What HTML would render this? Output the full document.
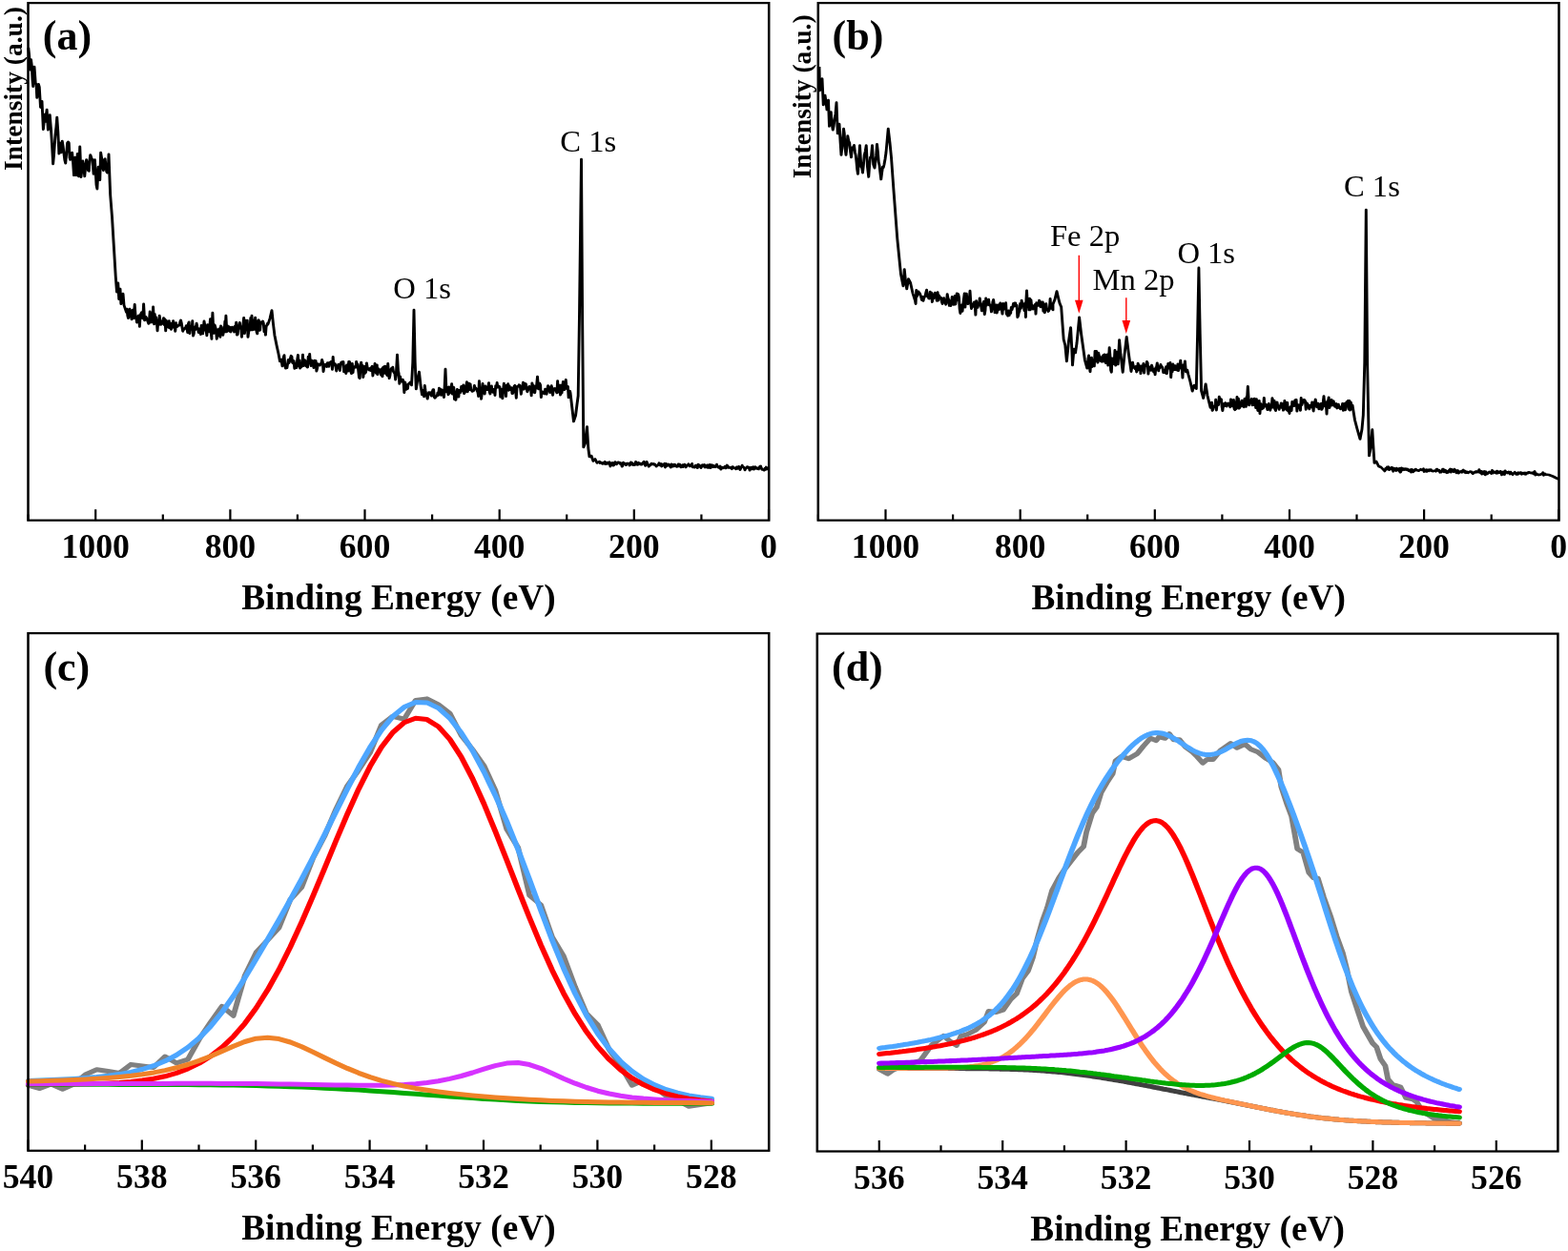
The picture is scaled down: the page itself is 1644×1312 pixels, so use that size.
<!DOCTYPE html>
<html lang="en"><head><meta charset="utf-8"><title>XPS spectra</title>
<style>html,body{margin:0;padding:0;background:#fff}body{width:1644px;height:1312px;overflow:hidden}svg{display:block;font-family:'Liberation Serif', 'DejaVu Serif', serif}</style>
</head><body>
<svg width="1644" height="1312" viewBox="0 0 1644 1312">
<rect width="1644" height="1312" fill="#fff"/>
<g id="panel-a">
<polyline points="26.56,50 27.34,58 28.12,73.1 29.02,62.5 29.69,68.4 30.36,83.3 31.03,90.6 32.14,70 33.26,87.5 33.93,88.1 34.6,102.5 35.34,98.3 36.09,88.2 36.83,91.2 37.95,112.5 38.62,112.7 39.29,106.2 40.51,135.6 41.18,128.4 41.85,120 42.63,127.5 43.86,115 44.98,136.2 45.81,132.5 46.65,120.6 47.77,136.2 48.72,152.5 49.67,171.9 50.4,163.3 51.14,151.5 51.87,140.4 52.61,133.3 53.35,123.1 54.3,138.4 55.25,161.2 56.36,150 57.25,160 58.26,148.1 58.98,153 59.71,160 60.55,167.7 61.38,171.2 62.22,160.8 63.06,150 63.78,148.8 64.51,150 65.18,165.3 65.85,167.5 66.69,163.9 67.52,160 68.36,170.1 69.2,183.8 70.31,165 71.43,183.8 72.54,161.2 73.66,185 74.78,153.8 75.89,185.6 76.73,177.7 77.57,168.8 78.4,175.3 79.24,185 80.08,175.1 80.92,167.5 81.75,172.1 82.59,178.8 83.26,179.4 83.93,168 84.6,162.5 85.55,165.5 86.5,167.5 87.61,182.5 88.73,167.5 89.47,179.7 90.22,194 90.96,198.1 92.08,175 92.8,181.2 93.53,188.8 94.31,160 95.15,165.6 95.98,175 96.82,178.7 97.66,167.5 98.35,166.6 99.05,173.3 99.75,179.8 100.45,181.2 101.12,178.4 101.79,161.9 103.24,204 104.91,227.5 106.58,258.8 108.26,290 109.37,306.2 110.49,296.9 111.38,313.8 112.5,303.1 113.28,318.8 115.18,308.1 116.07,320 118.3,327.5 118.82,324 119.46,330.9 120.1,333.7 120.75,327.4 121.39,324.1 122.03,329.7 122.67,332.2 123.32,335 123.96,325.2 124.6,325 125.25,333.8 125.36,331 126.07,319.4 126.96,333 127.48,333.4 128.12,338.2 128.76,336 129.41,331.4 130.05,330.8 130.69,342.4 131.34,331.1 131.98,329 132.62,327.6 133.26,333.3 133.75,334 134.46,318.8 135.36,336 135.87,334.2 136.51,332.2 137.16,333.6 137.8,335.3 138.44,337.4 139.09,339.4 139.73,335.6 140.37,326.7 141.01,338.1 141.66,328.8 142.3,334.6 142.68,338 143.39,321.9 144.29,340 144.8,329.4 145.44,336.2 146.09,332.8 146.73,337.5 147.37,347 148.01,336.6 148.66,340.7 149.3,331.1 149.94,336 150.59,340.4 151.23,337.1 151.87,339.4 152.51,338.3 153.16,333.5 153.8,340.7 154.44,334.7 155.09,346.9 155.73,336.3 156.37,341.9 157.01,338.9 157.66,343.4 158.3,336.5 158.94,343.9 159.59,339 160.23,345.4 160.87,342.6 161.51,340.6 162.16,336.5 162.8,343.5 163.44,342.2 164.09,347.5 164.73,338.5 165.37,342.7 166.01,342.5 166.66,341.6 167.3,341.3 167.94,341.2 168.59,337.7 169.23,335.9 169.87,338.7 170.51,343.2 171.16,347.4 171.8,345 172.44,345.4 173.09,344.2 173.73,343.9 174.37,341.6 175.01,344.3 175.66,348.8 176.3,339.4 176.94,337.8 177.59,349.8 178.23,342.1 178.87,345.5 179.51,345.3 180.16,336.5 180.8,352.2 181.44,350.1 182.09,343.1 182.73,345.9 183.37,343.4 184.01,339.1 184.66,342.8 185.3,345.2 185.94,348.8 186.59,347.2 187.23,344.5 187.87,350.6 188.51,341.3 189.16,348.5 189.8,350 190.44,343.7 191.09,336.9 191.73,340.9 192.37,346.1 193.01,347.4 193.66,352 194.3,340.5 194.94,345 195.59,347.9 196.23,344.3 196.87,334.6 197.51,348.6 198.16,355.4 198.21,346 199.02,328 199.82,347 200.34,349.5 200.98,340.9 201.62,343.1 202.26,346 202.91,355.4 203.55,347.8 204.19,345.5 204.84,352 205.48,344.6 206.12,353.4 206.76,341.9 207.41,342.9 208.05,348.2 208.69,351.4 209.34,347.9 209.98,346.4 210.62,336.8 210.71,348 211.52,331 212.32,348 212.84,341.7 213.48,342.1 214.12,342.4 214.76,347.4 215.41,343.2 216.05,348.1 216.69,344.9 217.34,343 217.98,345 218.62,346.3 219.26,348.2 219.91,342.1 220.55,343.2 221.19,338 221.84,351.3 222.48,350.6 223.12,343.2 223.76,341.8 224.41,338.3 225.05,344.6 225.69,344.7 226.34,353.5 226.98,344.7 227.62,340.1 228.26,333.2 228.91,349.8 229.55,344.2 230.19,336.1 230.84,344.1 231.48,336 232.12,353.5 232.76,348.1 233.41,345.6 234.05,342.2 234.69,333.3 235,346 235.71,331 236.52,346 237.03,342.2 237.68,335.8 238.32,345.4 238.96,333.1 239.6,338.6 240.25,348.1 240.89,350 241.53,337.2 242.18,335.6 242.82,346.4 243.46,346.2 244.1,337.9 244.75,339.2 245.39,339.2 246.03,336.9 246.68,339.1 247.32,347.8 247.96,345.2 248.6,351.3 249.25,341.7 249.89,341.4 250.53,339.1 250.89,340 252.68,334 254.46,325.6 255.8,340 257.14,352 258.93,362 260.71,371 262.05,379 263.39,377 264.29,384 264.8,379.5 265.44,374.6 266.09,372.6 266.73,383.1 267.37,386.2 268.01,383.7 268.66,385.8 269.3,381.3 269.94,377.2 270.59,380.6 271.23,378.7 271.87,375.6 272.51,373.2 273.16,374.1 273.8,380.4 274.44,381 275.09,378.4 275.73,386.5 276.37,381.2 277.01,383 277.66,385.7 278.3,377.1 278.94,372.3 279.59,383.8 280.23,377.7 280.87,386.2 281.51,382.1 282.16,384.9 282.8,383.9 283.44,372 284.09,383.8 284.73,378 285.37,377.6 286.01,379 286.66,384.1 287.3,384.6 287.94,385.2 288.59,374 289.23,378.5 289.87,371.3 290.51,380.6 291.16,383.7 291.8,378 292.44,382.3 293.09,382.4 293.73,385.7 294.37,378.1 295.01,378.2 295.66,378.5 296.3,389.2 296.94,386.5 297.59,381.5 298.23,383 298.87,382.6 299.51,383.1 300.16,381.5 300.8,381 301.44,377.2 302.09,379.9 302.73,389.6 303.37,385 304.01,383.1 304.66,382 305.3,383.3 305.94,384.6 306.59,380.5 307.23,384.1 307.87,384.4 308.51,380.3 309.16,380.2 309.8,379.4 310.44,379.3 311.09,387.5 311.73,374.2 312.37,382.9 313.01,381.5 313.66,381.6 314.3,384.7 314.94,389.1 315.59,384.7 316.23,383.9 316.87,382 317.51,384.1 318.16,388.6 318.8,383.2 319.44,380.1 320.09,379.7 320.73,380.5 321.37,379.4 322.01,389.9 322.66,386.9 323.3,384.5 323.94,391.7 324.59,382.9 325.23,388.9 325.87,389.2 326.51,379.4 327.16,379.4 327.8,382.2 328.44,390 329.09,391.7 329.73,381.2 330.37,390.8 331.01,384.9 331.66,384.9 332.3,384.3 332.94,385.4 333.59,379.2 334.23,382.7 334.87,381.8 335.51,389.1 336.16,395.9 336.8,396.8 337.44,385.7 338.09,380 338.73,385.5 339.37,383.3 340.01,395.7 340.66,389.8 341.3,384.3 341.94,391.4 342.59,389.7 343.23,380.7 343.87,385.3 344.51,386.6 345.16,387.7 345.8,388.2 346.44,386.3 347.09,388.6 347.73,385.3 348.37,384.1 349.01,394.2 349.66,389.4 350.3,389.8 350.94,381.3 351.59,387.3 352.23,391.5 352.87,382.7 353.51,392.8 354.16,386.6 354.8,389.9 355.44,387.7 356.09,389.2 356.73,393.4 357.37,386.7 358.01,395 358.66,385.2 359.3,384.6 359.94,391.5 360.59,384.1 361.23,387.1 361.87,392.5 362.51,393.8 363.16,381.3 363.8,390.9 364.44,396.8 365.09,393.9 365.73,387.9 366.37,386.4 367.01,387.8 367.66,385.1 368.3,389.7 368.94,390.8 369.59,391.9 370.23,398.2 370.87,393.2 371.07,388 371.87,372 372.77,389 373.28,391.4 373.93,402.5 374.57,394.7 375.21,398.1 375.85,400.2 376.5,400.2 377.14,398.2 377.78,401.5 378.43,411.6 379.07,400.7 379.71,403 380.35,408.4 381,407.2 381.64,407.6 382.14,403 383.93,401 385.27,404 386.43,380 387.5,325 388.57,380 389.55,408 390.62,400 392.41,390 393.75,404 395.09,414 396.43,409 396.94,416 397.59,404.4 398.23,409.4 398.87,413.5 399.51,414.9 400.16,418.2 400.8,414.7 401.44,411.6 402.09,412.7 402.73,411.6 403.37,413.5 404.01,415.2 404.66,410.9 405.3,408.8 405.94,408.5 406.59,416.7 407.23,417.4 407.87,416.1 408.51,415.4 409.16,415.3 409.8,411.7 410.44,414.4 411.09,407.1 411.73,410.6 412.37,408.3 413.01,414.4 413.66,408.8 414.3,410.7 414.94,412.8 415.59,416.7 416.07,409 416.96,387 417.86,411 418.37,407.4 419.01,406.7 419.66,414 420.3,405.9 420.94,412.4 421.59,408 422.23,409.9 422.87,402.6 423.51,413.2 424.16,408 424.8,406.2 425.44,418.7 426.09,412.9 426.73,419.5 427.37,411.4 428.01,408.2 428.66,410 429.3,416.3 429.94,409.3 430.59,411.3 431.23,411.5 431.87,405.4 432.51,409.7 433.16,407 433.8,403.8 434.44,412.7 435.09,411.8 435.73,409.3 436.37,405.2 437.01,400.6 437.66,411 438.3,408.6 438.94,402 439.59,408.7 440.23,402.7 440.87,408.9 441.51,409.6 442.16,410.5 442.8,409.9 443.44,409.7 444.09,404.3 444.73,407.4 445.37,406.9 446.01,408 446.66,410.1 447.3,411.6 447.94,415.8 448.59,399.5 449.23,410.7 449.87,408.2 450.51,418.4 451.16,412.8 451.8,402.2 452.44,410.7 453.09,406.9 453.73,413.1 454.37,404.7 455.01,408.6 455.66,408.5 456.3,408.6 456.94,406.6 457.59,401.5 458.23,410.9 458.87,413.1 459.51,408.7 460.16,404.8 460.8,409.8 461.44,411.3 462.09,408.3 462.73,408.9 463.37,414.7 464.01,404.5 464.66,406.7 465.3,401.3 465.94,406.2 466.59,406 467.23,405.1 467.87,406.2 468.51,416.3 469.16,408.2 469.8,408.5 470.44,417.9 471.09,408.8 471.73,402 472.37,410.6 473.01,405.2 473.66,415.6 474.3,404 474.94,406.7 475.59,402.6 476.23,409.4 476.87,404.9 477.51,408.7 478.16,407.5 478.8,406.5 479.44,412.7 480.09,412.5 480.73,408.9 481.37,405 482.01,404.2 482.66,409.5 483.3,417.5 483.94,406.4 484.59,405 485.23,405.3 485.87,403.6 486.51,404 487.16,407 487.8,413.4 488.44,407.6 489.09,405.5 489.73,401 490.37,408.2 491.01,407.2 491.66,402.3 492.3,402.7 492.94,406.8 493.59,410.9 494.23,409.3 494.87,407.5 495.51,405.3 496.16,407.8 496.8,406.4 497.44,415 498.09,401.7 498.73,404.7 499.37,411.2 500.01,404.9 500.66,411.9 501.3,406.2 501.94,407.2 502.23,405 503.12,395 504.11,408 504.62,405.9 505.26,402.1 505.91,403.9 506.55,416.8 507.19,410.7 507.84,410.8 508.48,412.3 509.12,411 509.76,413 510.41,408 511.05,408.4 511.69,413.4 512.34,408.3 512.98,404.6 513.62,409 514.26,407.4 514.91,411.8 515.55,406.2 516.19,404.5 516.84,407.1 517.48,414.4 518.12,407.7 518.76,408.2 519.41,407.3 520.05,408.2 520.69,410.4 521.34,412 521.98,399.6 522.62,411.3 523.26,405.6 523.91,404 524.55,414.2 525.19,404 525.84,412.2 526.48,408 527.12,400.3 527.76,407 528.41,408.7 529.05,406.1 529.69,398.4 530.34,406.7 530.98,408 531.62,405.3 532.26,416.9 532.91,410 533.55,410.2 533.93,412 535.27,425 537.05,442 538.84,436 540.18,424 541.25,415 542.41,330 544.2,167 545.18,330 546.25,469 547.77,465 549.55,447.5 550.71,470 551.79,479 553.57,478 555.36,483.5 557.14,481.5 558.93,485.5 561.16,484 561.67,485.6 562.32,485 562.96,485.1 563.6,486.2 564.25,486.4 564.89,485.4 565.53,486 566.18,484.3 566.82,486.7 567.46,485.2 568.1,486.4 568.75,485 569.39,485.5 570.03,486.4 570.68,484.6 571.32,489.1 571.96,486.1 572.6,486.1 573.25,485.3 573.89,488.2 574.53,488 575.18,486.6 575.82,484.5 576.46,485.6 577.1,487 577.75,485.6 578.39,484.8 579.03,484.8 579.68,485.4 580.32,486.3 580.96,485.5 581.6,486.4 582.25,489.2 582.89,488.6 583.53,485.1 584.18,486.8 584.82,486.5 585.46,486.2 586.1,487.7 586.75,486 587.39,486 588.03,486 588.68,486.3 589.32,488.1 589.96,487.5 590.6,484.8 591.25,486 591.89,485.6 592.53,487.6 593.18,486.9 593.82,487.7 594.46,486.6 595.1,484.3 595.75,487.3 596.39,487 597.03,487.4 597.68,485.2 598.32,486.9 598.96,486 599.6,486 600.25,487.3 600.89,487.3 601.53,485.8 602.18,484.9 602.82,484.2 603.46,486.3 604.1,488.4 604.75,487 605.39,484.3 606.03,486 606.68,487.6 607.32,489.2 607.96,488.6 608.6,487.6 609.25,487.4 609.89,486 610.53,486.7 611.18,486.9 611.82,486.4 612.46,487.4 613.1,486.9 613.75,487.8 614.39,489.1 615.03,488.3 615.68,488 616.32,487.2 616.96,485.7 617.6,487.4 618.25,488.2 618.89,486.4 619.53,489.1 620.18,487.2 620.82,488.1 621.46,487.3 622.1,486.2 622.75,490.1 623.39,486.4 624.03,488.8 624.68,487.1 625.32,488.1 625.96,486.9 626.6,487.4 627.25,489 627.89,490.2 628.53,486.9 629.18,488 629.82,489.1 630.46,487.3 631.1,488.9 631.75,487.1 632.39,488.8 633.03,488.6 633.68,489.5 634.32,488.6 634.96,486.8 635.6,489 636.25,487 636.89,489.1 637.53,490 638.18,489 638.82,487.7 639.46,489.7 640.1,488.6 640.75,487 641.39,488 642.03,490 642.68,488.1 643.32,488.6 643.96,488.1 644.6,486.6 645.25,488 645.89,489 646.53,488.8 647.18,488.4 647.82,486.3 648.46,490 649.1,489.5 649.75,489.9 650.39,490.2 651.03,488.3 651.68,488.1 652.32,489.2 652.96,490.7 653.6,487 654.25,488.6 654.89,488.1 655.53,489.6 656.18,490.6 656.82,488.7 657.46,487.6 658.1,489.1 658.75,488.8 659.39,487.4 660.03,490.1 660.68,488.6 661.32,489.9 661.96,487.8 662.6,490.4 663.25,487.7 663.89,490.4 664.53,487.3 665.18,490.8 665.82,488.9 666.46,487.7 667.1,489.1 667.75,489.8 668.39,488.4 669.03,488.9 669.68,489.8 670.32,489.3 670.96,487.1 671.6,489.1 672.25,490.1 672.89,489.9 673.53,490.7 674.18,488.9 674.82,492.2 675.46,490.6 676.1,490.1 676.75,490.9 677.39,490.8 678.03,489.9 678.68,489.2 679.32,491 679.96,490.4 680.6,487.9 681.25,488.8 681.89,490.5 682.53,490.1 683.18,490.3 683.82,490.7 684.46,490.2 685.1,491.8 685.75,489.5 686.39,489.7 687.03,490.5 687.68,491 688.32,491.1 688.96,491.8 689.6,489.8 690.25,491.5 690.89,490.8 691.53,489.3 692.18,490.3 692.82,492.6 693.46,491.3 694.1,490 694.75,488.1 695.39,489.8 696.03,489.8 696.68,490.7 697.32,493 697.96,491.4 698.6,491 699.25,489.7 699.89,489.5 700.53,490.5 701.18,490.3 701.82,493.2 702.46,490.4 703.1,490.2 703.75,492 704.39,491 705.03,489.7 705.68,492.3 706.32,490.6 706.96,489.6 707.6,491.3 708.25,491.5 708.89,490.7 709.53,491.8 710.18,492 710.82,490.3 711.46,489.1 712.1,488.9 712.75,491.1 713.39,492.5 714.03,492.3 714.68,492.7 715.32,493.2 715.96,491.4 716.6,492.4 717.25,489.9 717.89,492.1 718.53,491.8 719.18,491.4" fill="none" stroke="#000" stroke-width="2.6" stroke-linejoin="round" stroke-linecap="butt" transform="scale(1.12 1)"/>
<rect x="26.34" y="3.1" width="693.48" height="542.6" fill="none" stroke="#000" stroke-width="2.25" transform="scale(1.12 1)"/>
<path d="M100.2 545.7v-11.4M241.4 545.7v-11.4M382.5 545.7v-11.4M523.7 545.7v-11.4M664.8 545.7v-11.4M806 545.7v-11.4" stroke="#000" stroke-width="2.2" fill="none"/>
<path d="M29.6 545.7v-6.2M170.8 545.7v-6.2M311.9 545.7v-6.2M453.1 545.7v-6.2M594.2 545.7v-6.2M735.4 545.7v-6.2" stroke="#000" stroke-width="2.2" fill="none"/>
<text x="100.2" y="584.5" font-size="35.7" font-weight="bold" text-anchor="middle">1000</text>
<text x="241.4" y="584.5" font-size="35.7" font-weight="bold" text-anchor="middle">800</text>
<text x="382.5" y="584.5" font-size="35.7" font-weight="bold" text-anchor="middle">600</text>
<text x="523.7" y="584.5" font-size="35.7" font-weight="bold" text-anchor="middle">400</text>
<text x="664.8" y="584.5" font-size="35.7" font-weight="bold" text-anchor="middle">200</text>
<text x="806" y="584.5" font-size="35.7" font-weight="bold" text-anchor="middle">0</text>
<text x="417.9" y="639.2" font-size="37.3" font-weight="bold" text-anchor="middle">Binding Energy (eV)</text>
<text transform="translate(22.9 93) rotate(-90)" font-size="27.5" font-weight="bold" text-anchor="middle">Intensity (a.u.)</text>
<text x="44.8" y="52.3" font-size="44" font-weight="bold" text-anchor="start">(a)</text>
<text x="587.3" y="158.5" font-size="32.6" text-anchor="start">C 1s</text>
<text x="412.3" y="313.3" font-size="32.6" text-anchor="start">O 1s</text>
</g>
<g id="panel-b">
<polyline points="766.96,70 767.41,95 768.15,90.1 768.9,88.2 769.64,82.5 770.76,110 771.54,104.3 772.32,100 773.21,106.6 774.11,115 774.78,107.2 775.45,105 776.34,132.5 777.12,124.4 777.9,117.5 778.79,130.2 779.69,136.2 780.47,131.9 781.25,125 782.14,119.4 783.04,107.5 784.15,140 784.93,135.7 785.71,130 786.61,147.4 787.5,162.5 788.17,155.6 788.84,147.5 789.73,135 790.4,140 791.07,155 791.96,162.5 792.75,155.1 793.53,142.5 794.42,147.8 795.31,150 796.09,159 796.87,165 797.77,154.9 798.66,155 799.55,152.3 800.45,160 801.12,163 801.79,169.8 802.46,177.8 803.12,182.5 804.02,167.4 804.91,152.5 805.58,165.3 806.25,175 806.92,176.2 807.59,181.2 808.37,172.8 809.15,162.5 810.04,158.7 810.94,152.5 812.05,175 813.17,185.5 813.95,173.3 814.73,165 815.62,163.9 816.52,152.5 817.63,172.5 818.75,176.2 819.49,169.6 820.24,163.2 820.98,151.2 821.76,158.8 822.54,170 823.29,173.8 824.03,181 824.78,188 825.56,181.2 826.34,175 827.01,175.6 827.68,172.5 828.57,167 829.46,160 831.47,135 833.04,150 834.37,165 836.61,200 839.96,250 843.3,287.5 845.54,300 846.65,282.5 847.77,295 848.88,303 850.45,292.5 852.23,296.2 854.46,307.5 856.7,315.5 857.21,318.6 857.85,304.3 858.5,310.7 859.14,308.3 859.78,305.7 860.43,307.2 861.07,307.6 861.71,309.6 862.35,311.9 863,314.8 863.64,311.3 864.28,315.5 864.93,312.6 865.57,311.2 866.21,309.9 866.85,306.6 867.5,304 868.14,310.9 868.78,310.6 869.43,313 870.07,313.1 870.71,306.1 871.35,308.7 872,307 872.64,316.7 873.28,311.8 873.93,313 874.57,308.5 875.21,307 875.85,310.3 876.5,312.6 877.14,315.4 877.78,306.5 878.43,315.1 879.07,309.9 879.71,311.5 880.35,312.6 881,312.3 881.64,316.5 882.28,318.6 882.93,316.3 883.57,312.5 884.21,317 884.85,317 885.5,319.3 886.14,316.8 886.78,308.5 887.43,312.5 888.07,314.3 888.71,320.5 889.35,315.8 890,320.8 890.64,318.1 891.28,311.4 891.93,317.1 892.57,319.5 893.21,318.9 893.85,310.4 894.5,319.1 895.14,314.6 895.78,307.7 896.43,314.8 897.07,308.5 897.71,311.7 898.35,324.1 899,328.6 899.64,322.5 900.28,319.8 900.93,326.5 901.57,319.5 902.21,313.6 902.85,307.8 903.5,322.3 904.14,308 904.78,308.1 905.43,315.4 906.07,318.8 906.71,314.6 907.14,318 908.04,305 908.93,320 909.44,323.7 910.09,318.7 910.73,320.2 911.37,321.4 912.01,316.8 912.66,320.6 913.3,330.3 913.94,315.6 914.59,320.8 915.23,322.5 915.87,317.8 916.51,320.2 917.16,312.7 917.8,318.6 918.44,321 919.09,326 919.73,325.4 920.37,318.5 921.01,316.2 921.66,329.8 922.3,325.6 922.94,312.9 923.59,320.2 924.23,317.7 924.87,319.1 925.51,314.1 926.16,320.1 926.8,319.7 927.44,321 928.09,327 928.73,323.3 929.37,316.6 930.01,314.3 930.66,319.9 931.3,327.8 931.94,326.9 932.59,319.8 933.23,328.1 933.87,324.7 934.51,319.9 935.16,324.8 935.8,322.5 936.44,317.7 937.09,321 937.73,323.8 938.37,329.3 939.01,318.3 939.66,324.4 940.3,323.4 940.94,323.1 941.59,317.6 942.23,329.5 942.87,329.7 943.51,331.2 944.16,325.9 944.8,330.8 945.44,326.3 946.09,328.6 946.73,322.2 947.37,324.8 948.01,322 948.66,318.4 949.3,321.3 949.94,317.8 950.59,317.7 951.23,321.1 951.87,320 952.51,332.7 953.16,331.2 953.8,327.8 954.44,326.2 955.09,318.2 955.73,323.5 956.37,315.1 957.01,319 957.66,319.5 958.3,320 958.94,325.8 959.59,317.7 960.23,332.6 960.27,322 961.16,304.8 962.05,322 962.57,318.5 963.21,325 963.85,313.1 964.5,325 965.14,314.6 965.78,321.4 966.43,320.3 967.07,324.2 967.71,323 968.35,321.9 969,319.2 969.64,329.3 970.28,317.6 970.93,319.8 971.57,317.5 972.21,320.4 972.85,315 973.5,317.6 974.14,322 974.78,316.8 975.43,321.8 976.07,316.7 976.71,326.3 977.35,318.8 978,327.9 978.64,321.7 979.28,318.6 979.93,323.8 980.57,324.8 981.21,326.6 981.85,325.9 982.5,323.4 983.14,313.4 983.78,323.5 984.43,318.6 985.07,320.9 985.71,325 985.71,319 987.5,314 989.29,305.6 990.62,312 991.96,318 993.48,322 994.64,340 995.71,356 997.14,362 998.57,379 1000.45,358 1002.32,343.5 1003.21,362 1004.02,383 1005.36,366 1006.7,370 1008.04,360 1010.36,332.8 1012.14,350 1014.02,365 1015.62,378 1017.68,386.3 1018.75,376 1019.26,372.9 1019.91,384.4 1020.55,389.9 1021.19,380 1021.84,375.1 1022.48,384.6 1023.12,377.9 1023.76,382.8 1024.41,384 1025.05,368.4 1025.69,378.7 1026.34,368.3 1026.98,372.9 1027.62,380.3 1028.26,370.1 1028.91,372.8 1029.55,374.3 1030.19,378.6 1030.84,378.8 1031.48,379.4 1032.12,374 1032.76,372.6 1033.41,379.2 1034.05,371.9 1034.69,372.3 1035.34,380.8 1035.98,372.4 1036.62,371.8 1037.26,383.3 1037.91,376.8 1038.55,364.5 1039.19,372.9 1039.84,388.2 1040.48,390.3 1041.12,375.7 1041.76,381.3 1042.41,381.6 1043.05,379.3 1043.69,367.3 1044.34,383.2 1044.98,379.2 1045.62,376.4 1046.26,368.7 1046.61,382 1047.86,356.6 1049.11,372 1051.07,390.4 1052.68,372 1054.64,353.4 1056.7,372 1058.93,389.6 1060.27,380 1060.78,383.2 1061.42,385.4 1062.07,384.8 1062.71,386.9 1063.35,384.3 1064,390.1 1064.64,388.6 1065.28,381.1 1065.93,383.4 1066.57,387.7 1067.21,383.7 1067.85,391.8 1068.5,383.8 1069.14,387 1069.78,388.5 1070.43,381.4 1071.07,391.2 1071.71,385.2 1072.35,383.2 1073,383.2 1073.64,379.2 1074.28,380.5 1074.93,392.3 1075.57,385.6 1076.21,385 1076.85,387 1077.5,388.5 1078.14,383 1078.78,385.4 1079.43,387.3 1080.07,390.3 1080.71,387.3 1081.35,393 1082,385.4 1082.64,384.9 1083.28,380.7 1083.93,386.1 1084.57,388.9 1085.21,385.3 1085.85,385.7 1086.5,382.4 1087.14,384 1087.78,384.6 1088.43,386 1089.07,390.7 1089.71,388.5 1090.35,390.1 1091,391.2 1091.64,384.6 1092.28,391.9 1092.93,386.7 1093.57,381.2 1094.21,384.1 1094.85,386.2 1095.5,380.4 1096.14,395.8 1096.78,386.4 1097.43,390 1098.07,381.8 1098.71,387 1099.35,387.7 1100,383.6 1100.64,387.7 1101.28,386.7 1101.93,388.2 1102.57,381.9 1103.21,388.8 1103.85,385.6 1104.5,383.3 1105.14,378 1105.78,386 1106.43,385.3 1107.07,396.2 1107.71,382.8 1108.3,388 1109.29,378.9 1110.18,390 1111.43,388 1112.5,393 1114.29,400.5 1116.25,410.2 1117.86,404 1119.91,407.7 1121.07,350 1122.23,280.9 1123.39,350 1124.64,410 1126.52,417.6 1128.66,402.7 1130.36,415 1133.12,427.4 1134.38,422 1134.89,430.4 1135.53,429.5 1136.17,426.3 1136.82,425.7 1137.46,426.6 1138.1,419.1 1138.75,430.1 1139.39,423.5 1140.03,421.9 1140.68,424.7 1141.32,416.1 1141.96,419.6 1142.6,420.1 1143.25,418.6 1143.89,426.8 1144.53,430.7 1145.18,424.6 1145.82,423.3 1146.46,425.8 1147.1,422.6 1147.75,425 1148.39,426.1 1149.03,423.6 1149.68,422.9 1150.32,424.7 1150.96,424.7 1151.6,427 1152.25,418.7 1152.89,420.2 1153.53,422.5 1154.18,426.2 1154.82,419.4 1155.46,428.9 1156.1,429.8 1156.75,421.5 1157.39,428.6 1158.03,416.3 1158.68,423.9 1159.32,418.1 1159.96,428.3 1160.6,427.4 1161.25,426.2 1161.89,422.1 1162.53,420 1163.18,425.9 1163.82,422.4 1164.46,427 1165.1,418.4 1165.75,426.1 1166.39,426.5 1167.03,416.2 1167.14,424 1168.12,405.2 1169.29,425 1169.8,419.9 1170.44,422.1 1171.09,422.5 1171.73,418.3 1172.37,424.9 1173.01,420.6 1173.66,424.6 1174.3,418 1174.94,420.5 1175.59,427.7 1176.23,418.6 1176.87,425 1177.51,430.7 1178.16,428.3 1178.8,420.2 1179.44,433.7 1180.09,423.2 1180.73,428.9 1181.37,429 1182.01,424.2 1182.66,427.9 1183.3,417.2 1183.94,425.9 1184.59,426.2 1185.23,424.3 1185.87,426.1 1186.51,429.8 1187.16,429.3 1187.8,423.4 1188.44,428.8 1189.09,430.3 1189.73,426.3 1190.37,427.4 1191.01,417.6 1191.66,420 1192.3,427.5 1192.94,420.4 1193.59,429.3 1194.23,430.6 1194.87,422.4 1195.51,421.8 1196.16,425.5 1196.8,427.2 1197.44,429.5 1198.09,425.5 1198.73,426.6 1199.37,422.7 1200.01,427.6 1200.66,423.6 1201.3,430.3 1201.94,429.1 1202.59,420.2 1203.23,427.7 1203.87,422.2 1204.51,430 1205.16,422.3 1205.8,431 1206.44,430.3 1207.09,433.6 1207.73,427.4 1208.37,426.3 1209.01,430.7 1209.66,421.4 1210.3,425.8 1210.94,424.7 1211.59,425.7 1212.23,419.8 1212.87,419.4 1213.51,419.3 1214.16,431.3 1214.8,424.4 1215.44,428 1216.09,425.1 1216.73,424.7 1217.37,430.5 1218.01,417.3 1218.66,424.6 1219.3,422.4 1219.94,421.9 1220.59,419.2 1221.23,419.5 1221.87,420.7 1222.51,429.4 1223.16,422.6 1223.8,423.4 1224.44,424.4 1225.09,427.4 1225.73,429 1226.37,425.7 1227.01,425 1227.66,426.9 1228.3,421.9 1228.94,425.7 1229.59,431.2 1230.23,422.3 1230.87,421.5 1231.51,418.9 1232.16,424.9 1232.8,427 1233.44,423 1234.09,423.3 1234.73,429 1235.37,424.6 1236.01,427.2 1236.66,423.2 1237.3,429.5 1237.94,428.1 1238.39,424 1239.29,415.5 1240.18,426 1240.69,424.2 1241.34,422.6 1241.98,434.1 1242.62,420.8 1243.26,421.3 1243.91,416.7 1244.55,427.6 1245.19,425.2 1245.84,424.7 1246.48,419.3 1247.12,425.2 1247.76,422.1 1248.41,420.7 1249.05,424.3 1249.69,426.4 1250.34,424.7 1250.98,423.4 1251.62,428.1 1252.26,426.3 1252.91,424 1253.55,427.6 1254.19,426.6 1254.84,428.9 1255.48,428.6 1256.12,428.3 1256.76,423.3 1257.41,430.5 1258.05,429.2 1258.69,423.4 1259.34,430 1259.98,425.6 1260.62,421.5 1261.26,425 1261.91,420.4 1262.55,429.1 1263.19,420.3 1263.84,430.2 1264.48,421.7 1265.12,424.2 1265.76,429.2 1266.07,425 1268.3,440.5 1270.54,450 1273.21,460.5 1275,450 1276.16,435.5 1277.5,380 1278.84,220 1280,380 1281.7,478 1283.04,470 1284.64,450.5 1285.71,470 1286.61,485.5 1288.39,484 1290.62,489 1292.86,490 1296.25,494 1297.32,491 1297.84,492.3 1298.48,489.9 1299.12,491.8 1299.76,489.7 1300.41,492.8 1301.05,490.7 1301.69,491.9 1302.34,491.9 1302.98,490.2 1303.62,492.5 1304.26,494.3 1304.91,491 1305.55,491.4 1306.19,492.6 1306.84,493.7 1307.48,491.1 1308.12,492.5 1308.76,492.7 1309.41,493.6 1310.05,491.3 1310.69,495.3 1311.34,494.9 1311.98,490.7 1312.62,491.4 1313.26,492.8 1313.91,491.6 1314.55,491.8 1315.19,492.5 1315.84,491.6 1316.48,491.7 1317.12,492.8 1317.76,492 1318.41,493 1319.05,493.9 1319.69,494 1320.34,492.7 1320.98,495.2 1321.62,492.2 1322.26,493.8 1322.91,494.9 1323.55,493 1324.19,493.7 1324.84,492.2 1325.48,492.1 1326.12,493.1 1326.76,493.4 1327.41,493.3 1328.05,493.7 1328.69,493.3 1329.34,492.8 1329.98,492.2 1330.62,492.8 1331.26,493 1331.91,493 1332.55,491.7 1333.19,494.6 1333.84,494.4 1334.48,493.4 1335.12,492.5 1335.76,494.5 1336.41,492.8 1337.05,492.8 1337.69,493.9 1338.34,492.5 1338.98,493.4 1339.62,492.6 1340.26,494 1340.91,493.8 1341.55,494.2 1342.19,493.8 1342.84,493.7 1343.48,493.8 1344.12,494.3 1344.76,492.2 1345.41,492 1346.05,493.5 1346.69,493.7 1347.34,493.2 1347.98,495.3 1348.62,494.1 1349.26,495.1 1349.91,493.7 1350.55,492 1351.19,492 1351.84,495 1352.48,493.8 1353.12,493.2 1353.76,495.3 1354.41,495.9 1355.05,494.3 1355.69,495.4 1356.34,493.5 1356.98,492.8 1357.62,492 1358.26,495.3 1358.91,492.2 1359.55,493.6 1360.19,494.2 1360.84,494.8 1361.48,492 1362.12,493.9 1362.76,493.2 1363.41,495.9 1364.05,494 1364.69,493.5 1365.34,496.3 1365.98,494.5 1366.62,495.3 1367.26,494.8 1367.91,494.2 1368.55,495.3 1369.19,493.7 1369.84,492.9 1370.48,493.8 1371.12,495.3 1371.76,494.2 1372.41,495.8 1373.05,495.5 1373.69,494.9 1374.34,495.9 1374.98,495.2 1375.62,495.1 1376.26,494.5 1376.91,494.7 1377.55,494.8 1378.19,496.1 1378.84,496.7 1379.48,496.1 1380.12,495.2 1380.76,494.9 1381.41,495.3 1382.05,494.4 1382.69,495.1 1383.34,494.8 1383.98,495.1 1384.62,492.6 1385.26,495.2 1385.91,495.9 1386.55,494.1 1387.19,497.2 1387.84,495.5 1388.48,494.7 1389.12,496.9 1389.76,494.4 1390.41,498 1391.05,494.7 1391.69,496.5 1392.34,497 1392.98,496.2 1393.62,495.7 1394.26,494.8 1394.91,495.4 1395.55,495.8 1396.19,496.6 1396.84,493.3 1397.48,496.3 1398.12,494.5 1398.76,495 1399.41,495.6 1400.05,495 1400.69,496.3 1401.34,494 1401.98,496.2 1402.62,494.7 1403.26,495.4 1403.91,495.7 1404.55,494.3 1405.19,496.2 1405.84,498 1406.48,495.1 1407.12,494.9 1407.76,497.4 1408.41,497.6 1409.05,493.8 1409.69,495.5 1410.34,495.1 1410.98,496.1 1411.62,495.8 1412.26,494.9 1412.91,495.5 1413.55,497.1 1414.19,495 1414.84,496.2 1415.48,496.6 1416.12,497.8 1416.76,496.5 1417.41,496.3 1418.05,495.1 1418.69,496.3 1419.34,497.4 1419.98,496.6 1420.62,497.4 1421.26,495.7 1421.91,496.9 1422.55,495.9 1423.19,495.5 1423.84,495.6 1424.48,497.4 1425.12,496.8 1425.76,496.1 1426.41,496 1427.05,497.1 1427.69,495.9 1428.34,497.4 1428.98,496.6 1429.62,495.8 1430.26,496.2 1430.91,495.3 1431.55,495.3 1432.19,495.9 1432.84,495.9 1433.48,496.1 1434.12,495.7 1434.76,495.8 1435.41,496.8 1436.05,495.2 1436.69,494.4 1437.34,498.2 1437.98,496.8 1438.62,496.9 1439.26,497.8 1439.91,497.8 1440.55,498.1 1441.19,497.8 1441.84,497.7 1442.48,497.5 1443.12,497.1 1443.76,497.1 1444.41,495.6 1445.05,498.5 1445.69,497.3 1446.34,496.8 1446.43,497.5 1450,498 1453.57,499.5 1457.14,501.5 1459.2,502.5" fill="none" stroke="#000" stroke-width="2.6" stroke-linejoin="round" stroke-linecap="butt" transform="scale(1.12 1)"/>
<rect x="765.89" y="3.1" width="693.48" height="542.6" fill="none" stroke="#000" stroke-width="2.25" transform="scale(1.12 1)"/>
<path d="M928.5 545.7v-11.4M1069.7 545.7v-11.4M1210.8 545.7v-11.4M1352 545.7v-11.4M1493.1 545.7v-11.4M1634.2 545.7v-11.4" stroke="#000" stroke-width="2.2" fill="none"/>
<path d="M857.9 545.7v-6.2M999.1 545.7v-6.2M1140.2 545.7v-6.2M1281.4 545.7v-6.2M1422.5 545.7v-6.2M1563.7 545.7v-6.2" stroke="#000" stroke-width="2.2" fill="none"/>
<text x="928.5" y="584.5" font-size="35.7" font-weight="bold" text-anchor="middle">1000</text>
<text x="1069.7" y="584.5" font-size="35.7" font-weight="bold" text-anchor="middle">800</text>
<text x="1210.8" y="584.5" font-size="35.7" font-weight="bold" text-anchor="middle">600</text>
<text x="1352" y="584.5" font-size="35.7" font-weight="bold" text-anchor="middle">400</text>
<text x="1493.1" y="584.5" font-size="35.7" font-weight="bold" text-anchor="middle">200</text>
<text x="1634.2" y="584.5" font-size="35.7" font-weight="bold" text-anchor="middle">0</text>
<text x="1246.2" y="639.2" font-size="37.3" font-weight="bold" text-anchor="middle">Binding Energy (eV)</text>
<text transform="translate(850.2 101.4) rotate(-90)" font-size="27.5" font-weight="bold" text-anchor="middle">Intensity (a.u.)</text>
<text x="872.6" y="52.3" font-size="44" font-weight="bold" text-anchor="start">(b)</text>
<text x="1101" y="258.2" font-size="32.6" text-anchor="start">Fe 2p</text>
<text x="1145.6" y="303.6" font-size="32.6" text-anchor="start">Mn 2p</text>
<text x="1234.4" y="275.6" font-size="32.6" text-anchor="start">O 1s</text>
<text x="1409" y="206" font-size="32.6" text-anchor="start">C 1s</text>
<path d="M1131.3 267.7V315.7" stroke="#ff0000" stroke-width="1.4" fill="none"/>
<path d="M1127 314.7L1135.6 314.7L1131.3 328.7Z" fill="#ff0000"/>
<path d="M1180.8 312.2V337" stroke="#ff0000" stroke-width="1.4" fill="none"/>
<path d="M1176.5 336L1185.1 336L1180.8 350Z" fill="#ff0000"/>
</g>
<g id="panel-c">
<polyline points="25.91,1138.4 36.3,1141.5 46.68,1136.9 57.06,1142.2 67.44,1136.9 77.83,1127 88.21,1121.7 98.59,1123.6 108.97,1125.5 119.36,1116.4 129.74,1118 140.12,1119.4 150.5,1108 160.89,1114.9 171.27,1111.1 181.65,1089.8 192.03,1072 202.42,1055.3 212.8,1065.2 223.18,1023.3 233.57,998.9 243.95,986 254.33,973 264.71,943.3 275.1,930.3 285.48,899.8 295.86,877 306.24,849 316.63,824.3 327.01,807.6 337.39,789.3 347.77,760.3 358.16,751.2 368.54,754.2 378.92,734.4 389.3,732.9 399.69,739 410.07,748.1 420.45,771 430.83,786.2 441.22,803 451.6,828.9 461.98,869.5 472.37,889 482.75,939 493.13,949 503.51,983 513.9,1003 524.28,1035 534.66,1063 545.04,1075 555.43,1101 565.81,1117.5 576.19,1138.2 586.57,1133 596.96,1140 607.34,1149.5 617.72,1154 628.1,1160.3 638.49,1158.5 648.87,1156.8" fill="none" stroke="#808080" stroke-width="5.05" stroke-linejoin="round" stroke-linecap="round" transform="scale(1.15 1)"/>
<polyline points="25.91,1133.4 36.3,1133 46.68,1132.5 57.06,1132 67.44,1131.4 77.83,1130.6 88.21,1129.6 98.59,1128.3 108.97,1126.6 119.36,1124.4 129.74,1121.5 140.12,1117.7 150.5,1112.8 160.89,1106.5 171.27,1098.5 181.65,1088.5 192.03,1076.3 202.42,1061.6 212.8,1044.6 223.18,1025.7 233.57,1005.7 243.95,985.4 254.33,964.8 264.71,943.7 275.1,921.8 285.48,899 295.86,875.4 306.24,851.4 316.63,827.5 327.01,804.7 337.39,783.8 347.77,765.7 358.16,751.4 368.54,741.6 378.92,736.6 389.3,736.9 399.69,742.6 410.07,753.2 420.45,768.4 430.83,787.3 441.22,809.4 451.6,834.2 461.98,861.4 472.37,891 482.75,922.5 493.13,954.8 503.51,986.2 513.9,1015.5 524.28,1041.8 534.66,1064.7 545.04,1084.1 555.43,1100.2 565.81,1113.2 576.19,1123.6 586.57,1131.7 596.96,1137.9 607.34,1142.7 617.72,1146.2 628.1,1148.9 638.49,1150.8 648.87,1152.2" fill="none" stroke="#4da6ff" stroke-width="5.05" stroke-linejoin="round" stroke-linecap="round" transform="scale(1.15 1)"/>
<polyline points="25.91,1137.2 36.3,1137.2 46.68,1137.2 57.06,1137.1 67.44,1137 77.83,1136.8 88.21,1136.5 98.59,1136 108.97,1135.4 119.36,1134.4 129.74,1133.1 140.12,1131.3 150.5,1128.8 160.89,1125.4 171.27,1120.9 181.65,1115.1 192.03,1107.7 202.42,1098.5 212.8,1087.1 223.18,1073.4 233.57,1057.1 243.95,1038.3 254.33,1016.9 264.71,993 275.1,967 285.48,939.4 295.86,910.8 306.24,882 316.63,853.9 327.01,827.4 337.39,803.7 347.77,783.7 358.16,768.1 368.54,757.8 378.92,753.2 389.3,754.6 399.69,762 410.07,775.3 420.45,793.7 430.83,816.6 441.22,843 451.6,871.8 461.98,902 472.37,932.6 482.75,962.5 493.13,991.1 503.51,1017.7 513.9,1041.8 524.28,1063.3 534.66,1081.9 545.04,1097.8 555.43,1111.1 565.81,1122 576.19,1130.7 586.57,1137.6 596.96,1142.9 607.34,1147 617.72,1150 628.1,1152.2 638.49,1153.8 648.87,1154.9" fill="none" stroke="#ff0000" stroke-width="5.05" stroke-linejoin="round" stroke-linecap="round" transform="scale(1.15 1)"/>
<polyline points="25.91,1137.3 36.3,1137.3 46.68,1137.3 57.06,1137.3 67.44,1137.3 77.83,1137.3 88.21,1137.3 98.59,1137.3 108.97,1137.4 119.36,1137.4 129.74,1137.4 140.12,1137.4 150.5,1137.5 160.89,1137.5 171.27,1137.6 181.65,1137.7 192.03,1137.8 202.42,1137.9 212.8,1138.1 223.18,1138.3 233.57,1138.6 243.95,1138.9 254.33,1139.3 264.71,1139.7 275.1,1140.1 285.48,1140.6 295.86,1141.2 306.24,1141.8 316.63,1142.4 327.01,1143.1 337.39,1143.9 347.77,1144.7 358.16,1145.5 368.54,1146.4 378.92,1147.3 389.3,1148.2 399.69,1149.1 410.07,1150 420.45,1150.8 430.83,1151.6 441.22,1152.4 451.6,1153.1 461.98,1153.8 472.37,1154.4 482.75,1154.9 493.13,1155.4 503.51,1155.8 513.9,1156.1 524.28,1156.4 534.66,1156.6 545.04,1156.8 555.43,1156.9 565.81,1157 576.19,1157.1 586.57,1157.2 596.96,1157.2 607.34,1157.2 617.72,1157.2 628.1,1157.3 638.49,1157.3 648.87,1157.3" fill="none" stroke="#00aa00" stroke-width="5.05" stroke-linejoin="round" stroke-linecap="round" transform="scale(1.15 1)"/>
<polyline points="25.91,1136.7 36.3,1136.7 46.68,1136.7 57.06,1136.6 67.44,1136.6 77.83,1136.6 88.21,1136.5 98.59,1136.5 108.97,1136.5 119.36,1136.4 129.74,1136.4 140.12,1136.4 150.5,1136.4 160.89,1136.3 171.27,1136.3 181.65,1136.3 192.03,1136.3 202.42,1136.4 212.8,1136.4 223.18,1136.5 233.57,1136.6 243.95,1136.8 254.33,1136.9 264.71,1137.1 275.1,1137.3 285.48,1137.5 295.86,1137.7 306.24,1137.9 316.63,1138.1 327.01,1138.2 337.39,1138.2 347.77,1138.2 358.16,1137.9 368.54,1137.5 378.92,1136.7 389.3,1135.5 399.69,1133.7 410.07,1131.4 420.45,1128.5 430.83,1125 441.22,1121.2 451.6,1117.6 461.98,1115.1 472.37,1114.6 482.75,1116.6 493.13,1120.6 503.51,1125.8 513.9,1131.2 524.28,1136.2 534.66,1140.5 545.04,1144.2 555.43,1147 565.81,1149.2 576.19,1150.9 586.57,1152.1 596.96,1153 607.34,1153.7 617.72,1154.2 628.1,1154.6 638.49,1154.9 648.87,1155.2" fill="none" stroke="#d633ff" stroke-width="5.05" stroke-linejoin="round" stroke-linecap="round" transform="scale(1.15 1)"/>
<polyline points="25.91,1134 36.3,1133.7 46.68,1133.3 57.06,1132.9 67.44,1132.4 77.83,1131.9 88.21,1131.2 98.59,1130.4 108.97,1129.4 119.36,1128.2 129.74,1126.7 140.12,1124.9 150.5,1122.6 160.89,1119.8 171.27,1116.5 181.65,1112.4 192.03,1107.8 202.42,1102.6 212.8,1097.3 223.18,1092.5 233.57,1089.2 243.95,1088.2 254.33,1089.6 264.71,1093 275.1,1097.8 285.48,1103.4 295.86,1109.3 306.24,1115 316.63,1120.4 327.01,1125.3 337.39,1129.6 347.77,1133.3 358.16,1136.4 368.54,1139.1 378.92,1141.4 389.3,1143.3 399.69,1145 410.07,1146.5 420.45,1147.8 430.83,1148.9 441.22,1150 451.6,1150.9 461.98,1151.8 472.37,1152.6 482.75,1153.2 493.13,1153.8 503.51,1154.4 513.9,1154.8 524.28,1155.2 534.66,1155.5 545.04,1155.7 555.43,1155.9 565.81,1156.1 576.19,1156.2 586.57,1156.3 596.96,1156.4 607.34,1156.5 617.72,1156.5 628.1,1156.6 638.49,1156.6 648.87,1156.7" fill="none" stroke="#f08228" stroke-width="5.05" stroke-linejoin="round" stroke-linecap="round" transform="scale(1.15 1)"/>
<rect x="26.34" y="664.1" width="693.48" height="542.7" fill="none" stroke="#000" stroke-width="2.25" transform="scale(1.12 1)"/>
<path d="M29.4 1206.8v-11.4M148.8 1206.8v-11.4M268.2 1206.8v-11.4M387.6 1206.8v-11.4M507 1206.8v-11.4M626.4 1206.8v-11.4M745.8 1206.8v-11.4" stroke="#000" stroke-width="2.2" fill="none"/>
<path d="M89.1 1206.8v-6.2M208.5 1206.8v-6.2M327.9 1206.8v-6.2M447.3 1206.8v-6.2M566.7 1206.8v-6.2M686.1 1206.8v-6.2" stroke="#000" stroke-width="2.2" fill="none"/>
<text x="29.4" y="1245.5" font-size="35.7" font-weight="bold" text-anchor="middle">540</text>
<text x="148.8" y="1245.5" font-size="35.7" font-weight="bold" text-anchor="middle">538</text>
<text x="268.2" y="1245.5" font-size="35.7" font-weight="bold" text-anchor="middle">536</text>
<text x="387.6" y="1245.5" font-size="35.7" font-weight="bold" text-anchor="middle">534</text>
<text x="507" y="1245.5" font-size="35.7" font-weight="bold" text-anchor="middle">532</text>
<text x="626.4" y="1245.5" font-size="35.7" font-weight="bold" text-anchor="middle">530</text>
<text x="745.8" y="1245.5" font-size="35.7" font-weight="bold" text-anchor="middle">528</text>
<text x="417.9" y="1299.5" font-size="37.3" font-weight="bold" text-anchor="middle">Binding Energy (eV)</text>
<text x="45.4" y="713.6" font-size="44" font-weight="bold" text-anchor="start">(c)</text>
</g>
<g id="panel-d">
<polyline points="801.91,1121.6 809.22,1126.2 815.13,1121.6 826.09,1117 839.04,1112.4 849.65,1095.7 860.26,1086.5 866.87,1092.6 872.17,1096.4 876.17,1086.5 881.48,1085 889.39,1080.4 897.39,1072 901.3,1060.6 907.83,1061.5 914.61,1059.1 921.22,1048.4 926.96,1042 932.17,1026 937.39,1018 941.74,1004 945.65,985 950.35,966 954.78,952 959.13,934 965.22,921 970.43,912 977.83,901 982.61,894 987.91,887.9 990.52,872.6 995.83,852.8 999.83,846.7 1003.83,831.5 1009.13,820.8 1014.43,811.6 1017.04,797.9 1022.35,793.4 1029.04,795.6 1036.96,790.3 1042.26,782.7 1048.87,774.3 1054.17,776.6 1056.87,772.8 1062.17,774.3 1066.09,769.7 1070.09,775.8 1075.39,775.8 1080.7,783.4 1087.3,788.8 1091.3,793.4 1096.61,800.2 1100.61,796.4 1105.91,796.4 1112.52,787.3 1121.83,779.6 1127.74,784.2 1135.04,780.4 1140.35,785.7 1146.96,788.8 1153.57,794.9 1160.26,799.5 1165.57,807.1 1168.17,825.4 1173.48,843.7 1177.48,855.9 1180.09,872.6 1182.78,890.2 1188.09,894 1193.39,915.3 1197.39,920.5 1201.57,921.2 1206.87,941 1213.48,962.3 1218.7,982 1224.09,998.9 1228.09,1017.2 1232.09,1040 1238.7,1063 1242.7,1076.6 1251.39,1094 1255.04,1098.2 1258.7,1110.8 1262.96,1117.8 1265.39,1131.8 1269.65,1137.4 1276.96,1140.2 1281.83,1151.4 1287.91,1152.7 1291.57,1155.5 1296.09,1164 1301.74,1169 1307.39,1173 1314.7,1174.2 1322.61,1176.8 1330.43,1177.8" fill="none" stroke="#808080" stroke-width="5.05" stroke-linejoin="round" stroke-linecap="round" transform="scale(1.15 1)"/>
<polyline points="801.74,1120.4 803.48,1120.4 805.22,1120.4 806.96,1120.4 808.7,1120.4 810.43,1120.4 812.17,1120.4 813.91,1120.4 815.65,1120.4 817.39,1120.4 819.13,1120.4 820.87,1120.4 822.61,1120.4 824.35,1120.4 826.09,1120.4 827.83,1120.4 829.57,1120.4 831.3,1120.4 833.04,1120.4 834.78,1120.4 836.52,1120.4 838.26,1120.4 840,1120.4 841.74,1120.4 843.48,1120.4 845.22,1120.4 846.96,1120.4 848.7,1120.4 850.43,1120.4 852.17,1120.4 853.91,1120.4 855.65,1120.4 857.39,1120.4 859.13,1120.4 860.87,1120.4 862.61,1120.4 864.35,1120.4 866.09,1120.5 867.83,1120.5 869.57,1120.5 871.3,1120.5 873.04,1120.5 874.78,1120.5 876.52,1120.5 878.26,1120.5 880,1120.6 881.74,1120.6 883.48,1120.6 885.22,1120.6 886.96,1120.6 888.7,1120.7 890.43,1120.7 892.17,1120.7 893.91,1120.7 895.65,1120.8 897.39,1120.8 899.13,1120.8 900.87,1120.8 902.61,1120.9 904.35,1120.9 906.09,1121 907.83,1121 909.57,1121 911.3,1121.1 913.04,1121.1 914.78,1121.2 916.52,1121.2 918.26,1121.3 920,1121.3 921.74,1121.4 923.48,1121.5 925.22,1121.5 926.96,1121.6 928.7,1121.7 930.43,1121.8 932.17,1121.8 933.91,1121.9 935.65,1122 937.39,1122.1 939.13,1122.2 940.87,1122.3 942.61,1122.4 944.35,1122.6 946.09,1122.7 947.83,1122.8 949.57,1122.9 951.3,1123.1 953.04,1123.2 954.78,1123.4 956.52,1123.5 958.26,1123.7 960,1123.9 961.74,1124 963.48,1124.2 965.22,1124.4 966.96,1124.6 968.7,1124.8 970.43,1125 972.17,1125.2 973.91,1125.5 975.65,1125.7 977.39,1125.9 979.13,1126.2 980.87,1126.4 982.61,1126.7 984.35,1126.9 986.09,1127.2 987.83,1127.4 989.57,1127.7 991.3,1128 993.04,1128.3 994.78,1128.6 996.52,1128.9 998.26,1129.2 1000,1129.5 1001.74,1129.8 1003.48,1130.1 1005.22,1130.4 1006.96,1130.7 1008.7,1131.1 1010.43,1131.4 1012.17,1131.7 1013.91,1132.1 1015.65,1132.4 1017.39,1132.7 1019.13,1133.1 1020.87,1133.4 1022.61,1133.8 1024.35,1134.1 1026.09,1134.5 1027.83,1134.9 1029.57,1135.2 1031.3,1135.6 1033.04,1136 1034.78,1136.4 1036.52,1136.7 1038.26,1137.1 1040,1137.5 1041.74,1137.9 1043.48,1138.3 1045.22,1138.6 1046.96,1139 1048.7,1139.4 1050.43,1139.8 1052.17,1140.2 1053.91,1140.6 1055.65,1141 1057.39,1141.4 1059.13,1141.8 1060.87,1142.2 1062.61,1142.5 1064.35,1142.9 1066.09,1143.3 1067.83,1143.7 1069.57,1144.1 1071.3,1144.5 1073.04,1144.9 1074.78,1145.3 1076.52,1145.7 1078.26,1146.1 1080,1146.4 1081.74,1146.8 1083.48,1147.2 1085.22,1147.6 1086.96,1148 1088.7,1148.3 1090.43,1148.7 1092.17,1149.1 1093.91,1149.5 1095.65,1149.9 1097.39,1150.2 1099.13,1150.6 1100.87,1151 1102.61,1151.4 1104.35,1151.7 1106.09,1152.1 1107.83,1152.5 1109.57,1152.9 1111.3,1153.3 1113.04,1153.6 1114.78,1154 1116.52,1154.4 1118.26,1154.8 1120,1155.2 1121.74,1155.6 1123.48,1156 1125.22,1156.4 1126.96,1156.8 1128.7,1157.2 1130.43,1157.6 1132.17,1158 1133.91,1158.4 1135.65,1158.8 1137.39,1159.2 1139.13,1159.6 1140.87,1160 1142.61,1160.4 1144.35,1160.8 1146.09,1161.2 1147.83,1161.6 1149.57,1162 1151.3,1162.4 1153.04,1162.8 1154.78,1163.2 1156.52,1163.6 1158.26,1164 1160,1164.3 1161.74,1164.7 1163.48,1165.1 1165.22,1165.5 1166.96,1165.8 1168.7,1166.2 1170.43,1166.6 1172.17,1166.9 1173.91,1167.3 1175.65,1167.6 1177.39,1167.9 1179.13,1168.3 1180.87,1168.6 1182.61,1168.9 1184.35,1169.2 1186.09,1169.5 1187.83,1169.8 1189.57,1170.1 1191.3,1170.4 1193.04,1170.7 1194.78,1171 1196.52,1171.2 1198.26,1171.5 1200,1171.7 1201.74,1172 1203.48,1172.2 1205.22,1172.5 1206.96,1172.7 1208.7,1172.9 1210.43,1173.1 1212.17,1173.3 1213.91,1173.5 1215.65,1173.7 1217.39,1173.9 1219.13,1174.1 1220.87,1174.3 1222.61,1174.4 1224.35,1174.6 1226.09,1174.8 1227.83,1174.9 1229.57,1175.1 1231.3,1175.2 1233.04,1175.3 1234.78,1175.5 1236.52,1175.6 1238.26,1175.7 1240,1175.8 1241.74,1175.9 1243.48,1176 1245.22,1176.1 1246.96,1176.2 1248.7,1176.3 1250.43,1176.4 1252.17,1176.5 1253.91,1176.6 1255.65,1176.6 1257.39,1176.7 1259.13,1176.8 1260.87,1176.9 1262.61,1176.9 1264.35,1177 1266.09,1177 1267.83,1177.1 1269.57,1177.2 1271.3,1177.2 1273.04,1177.3 1274.78,1177.3 1276.52,1177.4 1278.26,1177.4 1280,1177.5 1281.74,1177.5 1283.48,1177.5 1285.22,1177.6 1286.96,1177.6 1288.7,1177.6 1290.43,1177.7 1292.17,1177.7 1293.91,1177.7 1295.65,1177.8 1297.39,1177.8 1299.13,1177.8 1300.87,1177.9 1302.61,1177.9 1304.35,1177.9 1306.09,1177.9 1307.83,1178 1309.57,1178 1311.3,1178 1313.04,1178 1314.78,1178 1316.52,1178 1318.26,1178.1 1320,1178.1 1321.74,1178.1 1323.48,1178.1 1325.22,1178.1 1326.96,1178.1 1328.7,1178.1 1330.43,1178.2" fill="none" stroke="#404040" stroke-width="5.05" stroke-linejoin="round" stroke-linecap="round" transform="scale(1.15 1)"/>
<polyline points="801.74,1120.4 803.48,1120.4 805.22,1120.4 806.96,1120.4 808.7,1120.4 810.43,1120.4 812.17,1120.4 813.91,1120.4 815.65,1120.4 817.39,1120.4 819.13,1120.4 820.87,1120.4 822.61,1120.4 824.35,1120.4 826.09,1120.4 827.83,1120.3 829.57,1120.3 831.3,1120.3 833.04,1120.3 834.78,1120.3 836.52,1120.3 838.26,1120.3 840,1120.3 841.74,1120.3 843.48,1120.3 845.22,1120.3 846.96,1120.3 848.7,1120.3 850.43,1120.3 852.17,1120.3 853.91,1120.3 855.65,1120.2 857.39,1120.2 859.13,1120.2 860.87,1120.2 862.61,1120.1 864.35,1120.1 866.09,1120 867.83,1120 869.57,1119.9 871.3,1119.8 873.04,1119.7 874.78,1119.6 876.52,1119.5 878.26,1119.4 880,1119.2 881.74,1119.1 883.48,1118.9 885.22,1118.6 886.96,1118.4 888.7,1118.1 890.43,1117.8 892.17,1117.5 893.91,1117.1 895.65,1116.7 897.39,1116.2 899.13,1115.7 900.87,1115.1 902.61,1114.5 904.35,1113.8 906.09,1113 907.83,1112.2 909.57,1111.4 911.3,1110.4 913.04,1109.4 914.78,1108.3 916.52,1107.1 918.26,1105.8 920,1104.5 921.74,1103 923.48,1101.5 925.22,1099.8 926.96,1098.1 928.7,1096.3 930.43,1094.4 932.17,1092.4 933.91,1090.4 935.65,1088.2 937.39,1086 939.13,1083.7 940.87,1081.3 942.61,1078.9 944.35,1076.4 946.09,1073.8 947.83,1071.2 949.57,1068.6 951.3,1066 953.04,1063.3 954.78,1060.7 956.52,1058 958.26,1055.4 960,1052.9 961.74,1050.3 963.48,1047.9 965.22,1045.5 966.96,1043.2 968.7,1041 970.43,1038.9 972.17,1037 973.91,1035.2 975.65,1033.5 977.39,1032.1 979.13,1030.7 980.87,1029.6 982.61,1028.7 984.35,1027.9 986.09,1027.4 987.83,1027.1 989.57,1027 991.3,1027.1 993.04,1027.4 994.78,1028 996.52,1028.7 998.26,1029.7 1000,1031 1001.74,1032.4 1003.48,1034 1005.22,1035.9 1006.96,1037.9 1008.7,1040.1 1010.43,1042.5 1012.17,1045 1013.91,1047.6 1015.65,1050.4 1017.39,1053.3 1019.13,1056.3 1020.87,1059.4 1022.61,1062.5 1024.35,1065.7 1026.09,1068.9 1027.83,1072.1 1029.57,1075.4 1031.3,1078.6 1033.04,1081.8 1034.78,1085.1 1036.52,1088.2 1038.26,1091.3 1040,1094.4 1041.74,1097.4 1043.48,1100.3 1045.22,1103.2 1046.96,1105.9 1048.7,1108.6 1050.43,1111.2 1052.17,1113.7 1053.91,1116 1055.65,1118.3 1057.39,1120.5 1059.13,1122.6 1060.87,1124.6 1062.61,1126.5 1064.35,1128.3 1066.09,1130 1067.83,1131.6 1069.57,1133.1 1071.3,1134.5 1073.04,1135.9 1074.78,1137.2 1076.52,1138.4 1078.26,1139.5 1080,1140.6 1081.74,1141.6 1083.48,1142.6 1085.22,1143.5 1086.96,1144.3 1088.7,1145.1 1090.43,1145.9 1092.17,1146.6 1093.91,1147.3 1095.65,1147.9 1097.39,1148.5 1099.13,1149.1 1100.87,1149.7 1102.61,1150.2 1104.35,1150.8 1106.09,1151.3 1107.83,1151.8 1109.57,1152.2 1111.3,1152.7 1113.04,1153.2 1114.78,1153.6 1116.52,1154.1 1118.26,1154.5 1120,1154.9 1121.74,1155.4 1123.48,1155.8 1125.22,1156.2 1126.96,1156.6 1128.7,1157 1130.43,1157.5 1132.17,1157.9 1133.91,1158.3 1135.65,1158.7 1137.39,1159.1 1139.13,1159.5 1140.87,1159.9 1142.61,1160.4 1144.35,1160.8 1146.09,1161.2 1147.83,1161.6 1149.57,1162 1151.3,1162.4 1153.04,1162.8 1154.78,1163.2 1156.52,1163.6 1158.26,1164 1160,1164.3 1161.74,1164.7 1163.48,1165.1 1165.22,1165.5 1166.96,1165.8 1168.7,1166.2 1170.43,1166.5 1172.17,1166.9 1173.91,1167.2 1175.65,1167.6 1177.39,1167.9 1179.13,1168.2 1180.87,1168.6 1182.61,1168.9 1184.35,1169.2 1186.09,1169.5 1187.83,1169.8 1189.57,1170.1 1191.3,1170.4 1193.04,1170.7 1194.78,1171 1196.52,1171.2 1198.26,1171.5 1200,1171.7 1201.74,1172 1203.48,1172.2 1205.22,1172.5 1206.96,1172.7 1208.7,1172.9 1210.43,1173.1 1212.17,1173.3 1213.91,1173.5 1215.65,1173.7 1217.39,1173.9 1219.13,1174.1 1220.87,1174.3 1222.61,1174.4 1224.35,1174.6 1226.09,1174.8 1227.83,1174.9 1229.57,1175.1 1231.3,1175.2 1233.04,1175.3 1234.78,1175.5 1236.52,1175.6 1238.26,1175.7 1240,1175.8 1241.74,1175.9 1243.48,1176 1245.22,1176.1 1246.96,1176.2 1248.7,1176.3 1250.43,1176.4 1252.17,1176.5 1253.91,1176.6 1255.65,1176.6 1257.39,1176.7 1259.13,1176.8 1260.87,1176.9 1262.61,1176.9 1264.35,1177 1266.09,1177 1267.83,1177.1 1269.57,1177.2 1271.3,1177.2 1273.04,1177.3 1274.78,1177.3 1276.52,1177.4 1278.26,1177.4 1280,1177.4 1281.74,1177.5 1283.48,1177.5 1285.22,1177.6 1286.96,1177.6 1288.7,1177.6 1290.43,1177.7 1292.17,1177.7 1293.91,1177.7 1295.65,1177.8 1297.39,1177.8 1299.13,1177.8 1300.87,1177.9 1302.61,1177.9 1304.35,1177.9 1306.09,1177.9 1307.83,1177.9 1309.57,1178 1311.3,1178 1313.04,1178 1314.78,1178 1316.52,1178 1318.26,1178.1 1320,1178.1 1321.74,1178.1 1323.48,1178.1 1325.22,1178.1 1326.96,1178.1 1328.7,1178.1 1330.43,1178.2" fill="none" stroke="#ff9650" stroke-width="5.05" stroke-linejoin="round" stroke-linecap="round" transform="scale(1.15 1)"/>
<polyline points="801.74,1105.4 803.48,1105.2 805.22,1105 806.96,1104.8 808.7,1104.6 810.43,1104.4 812.17,1104.2 813.91,1103.9 815.65,1103.7 817.39,1103.5 819.13,1103.3 820.87,1103 822.61,1102.8 824.35,1102.5 826.09,1102.3 827.83,1102 829.57,1101.7 831.3,1101.5 833.04,1101.2 834.78,1100.9 836.52,1100.6 838.26,1100.3 840,1100 841.74,1099.7 843.48,1099.4 845.22,1099.1 846.96,1098.8 848.7,1098.5 850.43,1098.1 852.17,1097.8 853.91,1097.4 855.65,1097 857.39,1096.7 859.13,1096.3 860.87,1095.9 862.61,1095.5 864.35,1095.1 866.09,1094.7 867.83,1094.2 869.57,1093.8 871.3,1093.3 873.04,1092.8 874.78,1092.4 876.52,1091.9 878.26,1091.4 880,1090.8 881.74,1090.3 883.48,1089.7 885.22,1089.2 886.96,1088.6 888.7,1088 890.43,1087.3 892.17,1086.7 893.91,1086 895.65,1085.3 897.39,1084.6 899.13,1083.9 900.87,1083.1 902.61,1082.4 904.35,1081.6 906.09,1080.7 907.83,1079.9 909.57,1079 911.3,1078.1 913.04,1077.1 914.78,1076.1 916.52,1075.1 918.26,1074.1 920,1073 921.74,1071.9 923.48,1070.7 925.22,1069.5 926.96,1068.3 928.7,1067 930.43,1065.7 932.17,1064.3 933.91,1062.9 935.65,1061.4 937.39,1059.9 939.13,1058.4 940.87,1056.8 942.61,1055.1 944.35,1053.4 946.09,1051.6 947.83,1049.7 949.57,1047.8 951.3,1045.9 953.04,1043.9 954.78,1041.8 956.52,1039.6 958.26,1037.4 960,1035.1 961.74,1032.7 963.48,1030.3 965.22,1027.8 966.96,1025.2 968.7,1022.5 970.43,1019.8 972.17,1016.9 973.91,1014 975.65,1011 977.39,1008 979.13,1004.8 980.87,1001.6 982.61,998.3 984.35,994.9 986.09,991.4 987.83,987.9 989.57,984.2 991.3,980.5 993.04,976.7 994.78,972.9 996.52,968.9 998.26,964.9 1000,960.8 1001.74,956.7 1003.48,952.5 1005.22,948.3 1006.96,944 1008.7,939.7 1010.43,935.4 1012.17,931 1013.91,926.7 1015.65,922.3 1017.39,918 1019.13,913.7 1020.87,909.4 1022.61,905.2 1024.35,901.1 1026.09,897.1 1027.83,893.2 1029.57,889.4 1031.3,885.8 1033.04,882.3 1034.78,879 1036.52,876 1038.26,873.1 1040,870.6 1041.74,868.2 1043.48,866.2 1045.22,864.5 1046.96,863 1048.7,861.9 1050.43,861.1 1052.17,860.7 1053.91,860.6 1055.65,860.9 1057.39,861.5 1059.13,862.5 1060.87,863.9 1062.61,865.6 1064.35,867.6 1066.09,869.9 1067.83,872.6 1069.57,875.5 1071.3,878.8 1073.04,882.2 1074.78,886 1076.52,889.9 1078.26,894.1 1080,898.4 1081.74,902.9 1083.48,907.5 1085.22,912.3 1086.96,917.2 1088.7,922.1 1090.43,927.1 1092.17,932.2 1093.91,937.3 1095.65,942.4 1097.39,947.5 1099.13,952.6 1100.87,957.8 1102.61,962.8 1104.35,967.9 1106.09,972.9 1107.83,977.9 1109.57,982.8 1111.3,987.6 1113.04,992.4 1114.78,997.1 1116.52,1001.7 1118.26,1006.3 1120,1010.8 1121.74,1015.1 1123.48,1019.4 1125.22,1023.7 1126.96,1027.8 1128.7,1031.8 1130.43,1035.8 1132.17,1039.7 1133.91,1043.4 1135.65,1047.1 1137.39,1050.7 1139.13,1054.2 1140.87,1057.7 1142.61,1061 1144.35,1064.2 1146.09,1067.4 1147.83,1070.5 1149.57,1073.5 1151.3,1076.4 1153.04,1079.2 1154.78,1082 1156.52,1084.7 1158.26,1087.3 1160,1089.8 1161.74,1092.2 1163.48,1094.6 1165.22,1096.9 1166.96,1099.2 1168.7,1101.3 1170.43,1103.4 1172.17,1105.5 1173.91,1107.4 1175.65,1109.3 1177.39,1111.2 1179.13,1113 1180.87,1114.7 1182.61,1116.4 1184.35,1118 1186.09,1119.6 1187.83,1121.2 1189.57,1122.6 1191.3,1124.1 1193.04,1125.5 1194.78,1126.8 1196.52,1128.1 1198.26,1129.3 1200,1130.6 1201.74,1131.7 1203.48,1132.9 1205.22,1134 1206.96,1135 1208.7,1136.1 1210.43,1137.1 1212.17,1138 1213.91,1139 1215.65,1139.9 1217.39,1140.7 1219.13,1141.6 1220.87,1142.4 1222.61,1143.2 1224.35,1144 1226.09,1144.7 1227.83,1145.4 1229.57,1146.1 1231.3,1146.8 1233.04,1147.4 1234.78,1148.1 1236.52,1148.7 1238.26,1149.3 1240,1149.9 1241.74,1150.4 1243.48,1150.9 1245.22,1151.5 1246.96,1152 1248.7,1152.5 1250.43,1153 1252.17,1153.4 1253.91,1153.9 1255.65,1154.3 1257.39,1154.8 1259.13,1155.2 1260.87,1155.6 1262.61,1156 1264.35,1156.4 1266.09,1156.7 1267.83,1157.1 1269.57,1157.5 1271.3,1157.8 1273.04,1158.1 1274.78,1158.5 1276.52,1158.8 1278.26,1159.1 1280,1159.4 1281.74,1159.7 1283.48,1160 1285.22,1160.3 1286.96,1160.6 1288.7,1160.8 1290.43,1161.1 1292.17,1161.4 1293.91,1161.6 1295.65,1161.9 1297.39,1162.1 1299.13,1162.3 1300.87,1162.6 1302.61,1162.8 1304.35,1163 1306.09,1163.2 1307.83,1163.4 1309.57,1163.6 1311.3,1163.8 1313.04,1164 1314.78,1164.2 1316.52,1164.4 1318.26,1164.6 1320,1164.8 1321.74,1165 1323.48,1165.1 1325.22,1165.3 1326.96,1165.5 1328.7,1165.6 1330.43,1165.8" fill="none" stroke="#ff0000" stroke-width="5.05" stroke-linejoin="round" stroke-linecap="round" transform="scale(1.15 1)"/>
<polyline points="801.74,1119.6 803.48,1119.6 805.22,1119.6 806.96,1119.6 808.7,1119.5 810.43,1119.5 812.17,1119.5 813.91,1119.5 815.65,1119.5 817.39,1119.5 819.13,1119.5 820.87,1119.5 822.61,1119.5 824.35,1119.4 826.09,1119.4 827.83,1119.4 829.57,1119.4 831.3,1119.4 833.04,1119.4 834.78,1119.4 836.52,1119.4 838.26,1119.4 840,1119.4 841.74,1119.4 843.48,1119.3 845.22,1119.3 846.96,1119.3 848.7,1119.3 850.43,1119.3 852.17,1119.3 853.91,1119.3 855.65,1119.3 857.39,1119.3 859.13,1119.3 860.87,1119.3 862.61,1119.3 864.35,1119.3 866.09,1119.3 867.83,1119.3 869.57,1119.3 871.3,1119.3 873.04,1119.3 874.78,1119.3 876.52,1119.3 878.26,1119.3 880,1119.3 881.74,1119.3 883.48,1119.3 885.22,1119.3 886.96,1119.3 888.7,1119.3 890.43,1119.3 892.17,1119.3 893.91,1119.3 895.65,1119.4 897.39,1119.4 899.13,1119.4 900.87,1119.4 902.61,1119.4 904.35,1119.4 906.09,1119.5 907.83,1119.5 909.57,1119.5 911.3,1119.5 913.04,1119.6 914.78,1119.6 916.52,1119.6 918.26,1119.7 920,1119.7 921.74,1119.7 923.48,1119.8 925.22,1119.8 926.96,1119.9 928.7,1119.9 930.43,1120 932.17,1120 933.91,1120.1 935.65,1120.2 937.39,1120.2 939.13,1120.3 940.87,1120.4 942.61,1120.5 944.35,1120.6 946.09,1120.7 947.83,1120.8 949.57,1120.9 951.3,1121 953.04,1121.1 954.78,1121.2 956.52,1121.4 958.26,1121.5 960,1121.6 961.74,1121.8 963.48,1121.9 965.22,1122.1 966.96,1122.2 968.7,1122.4 970.43,1122.6 972.17,1122.8 973.91,1122.9 975.65,1123.1 977.39,1123.3 979.13,1123.5 980.87,1123.7 982.61,1123.9 984.35,1124.2 986.09,1124.4 987.83,1124.6 989.57,1124.8 991.3,1125.1 993.04,1125.3 994.78,1125.5 996.52,1125.8 998.26,1126 1000,1126.3 1001.74,1126.5 1003.48,1126.8 1005.22,1127 1006.96,1127.3 1008.7,1127.6 1010.43,1127.8 1012.17,1128.1 1013.91,1128.4 1015.65,1128.7 1017.39,1128.9 1019.13,1129.2 1020.87,1129.5 1022.61,1129.8 1024.35,1130 1026.09,1130.3 1027.83,1130.6 1029.57,1130.9 1031.3,1131.2 1033.04,1131.5 1034.78,1131.7 1036.52,1132 1038.26,1132.3 1040,1132.6 1041.74,1132.9 1043.48,1133.1 1045.22,1133.4 1046.96,1133.7 1048.7,1134 1050.43,1134.2 1052.17,1134.5 1053.91,1134.7 1055.65,1135 1057.39,1135.2 1059.13,1135.5 1060.87,1135.7 1062.61,1136 1064.35,1136.2 1066.09,1136.4 1067.83,1136.6 1069.57,1136.8 1071.3,1137 1073.04,1137.2 1074.78,1137.4 1076.52,1137.5 1078.26,1137.7 1080,1137.8 1081.74,1138 1083.48,1138.1 1085.22,1138.2 1086.96,1138.3 1088.7,1138.3 1090.43,1138.4 1092.17,1138.4 1093.91,1138.4 1095.65,1138.4 1097.39,1138.4 1099.13,1138.3 1100.87,1138.3 1102.61,1138.2 1104.35,1138.1 1106.09,1137.9 1107.83,1137.8 1109.57,1137.6 1111.3,1137.3 1113.04,1137.1 1114.78,1136.8 1116.52,1136.5 1118.26,1136.1 1120,1135.7 1121.74,1135.3 1123.48,1134.8 1125.22,1134.3 1126.96,1133.8 1128.7,1133.2 1130.43,1132.5 1132.17,1131.8 1133.91,1131.1 1135.65,1130.3 1137.39,1129.5 1139.13,1128.6 1140.87,1127.7 1142.61,1126.7 1144.35,1125.7 1146.09,1124.6 1147.83,1123.5 1149.57,1122.3 1151.3,1121.1 1153.04,1119.8 1154.78,1118.5 1156.52,1117.1 1158.26,1115.7 1160,1114.3 1161.74,1112.8 1163.48,1111.3 1165.22,1109.8 1166.96,1108.3 1168.7,1106.8 1170.43,1105.3 1172.17,1103.9 1173.91,1102.4 1175.65,1101.1 1177.39,1099.8 1179.13,1098.5 1180.87,1097.4 1182.61,1096.4 1184.35,1095.5 1186.09,1094.8 1187.83,1094.2 1189.57,1093.8 1191.3,1093.6 1193.04,1093.6 1194.78,1093.7 1196.52,1094.1 1198.26,1094.7 1200,1095.5 1201.74,1096.5 1203.48,1097.7 1205.22,1099 1206.96,1100.6 1208.7,1102.3 1210.43,1104.1 1212.17,1106 1213.91,1108 1215.65,1110 1217.39,1112.1 1219.13,1114.2 1220.87,1116.4 1222.61,1118.5 1224.35,1120.7 1226.09,1122.8 1227.83,1124.9 1229.57,1126.9 1231.3,1128.9 1233.04,1130.9 1234.78,1132.8 1236.52,1134.6 1238.26,1136.4 1240,1138.1 1241.74,1139.8 1243.48,1141.4 1245.22,1143 1246.96,1144.5 1248.7,1145.9 1250.43,1147.2 1252.17,1148.5 1253.91,1149.8 1255.65,1151 1257.39,1152.1 1259.13,1153.2 1260.87,1154.3 1262.61,1155.2 1264.35,1156.2 1266.09,1157.1 1267.83,1157.9 1269.57,1158.7 1271.3,1159.5 1273.04,1160.2 1274.78,1160.9 1276.52,1161.6 1278.26,1162.2 1280,1162.8 1281.74,1163.4 1283.48,1163.9 1285.22,1164.5 1286.96,1164.9 1288.7,1165.4 1290.43,1165.9 1292.17,1166.3 1293.91,1166.7 1295.65,1167.1 1297.39,1167.4 1299.13,1167.8 1300.87,1168.1 1302.61,1168.4 1304.35,1168.7 1306.09,1169 1307.83,1169.3 1309.57,1169.5 1311.3,1169.8 1313.04,1170 1314.78,1170.3 1316.52,1170.5 1318.26,1170.7 1320,1170.9 1321.74,1171.1 1323.48,1171.3 1325.22,1171.5 1326.96,1171.6 1328.7,1171.8 1330.43,1172" fill="none" stroke="#00aa00" stroke-width="5.05" stroke-linejoin="round" stroke-linecap="round" transform="scale(1.15 1)"/>
<polyline points="801.74,1115.2 803.48,1115.1 805.22,1115.1 806.96,1115 808.7,1114.9 810.43,1114.9 812.17,1114.8 813.91,1114.8 815.65,1114.7 817.39,1114.6 819.13,1114.6 820.87,1114.5 822.61,1114.5 824.35,1114.4 826.09,1114.3 827.83,1114.3 829.57,1114.2 831.3,1114.1 833.04,1114.1 834.78,1114 836.52,1113.9 838.26,1113.9 840,1113.8 841.74,1113.7 843.48,1113.6 845.22,1113.6 846.96,1113.5 848.7,1113.4 850.43,1113.4 852.17,1113.3 853.91,1113.2 855.65,1113.1 857.39,1113 859.13,1113 860.87,1112.9 862.61,1112.8 864.35,1112.7 866.09,1112.6 867.83,1112.6 869.57,1112.5 871.3,1112.4 873.04,1112.3 874.78,1112.2 876.52,1112.1 878.26,1112 880,1112 881.74,1111.9 883.48,1111.8 885.22,1111.7 886.96,1111.6 888.7,1111.5 890.43,1111.4 892.17,1111.3 893.91,1111.2 895.65,1111.1 897.39,1111 899.13,1110.9 900.87,1110.8 902.61,1110.7 904.35,1110.6 906.09,1110.5 907.83,1110.4 909.57,1110.3 911.3,1110.2 913.04,1110.1 914.78,1109.9 916.52,1109.8 918.26,1109.7 920,1109.6 921.74,1109.5 923.48,1109.4 925.22,1109.3 926.96,1109.2 928.7,1109.1 930.43,1109 932.17,1108.8 933.91,1108.7 935.65,1108.6 937.39,1108.5 939.13,1108.4 940.87,1108.3 942.61,1108.2 944.35,1108.1 946.09,1107.9 947.83,1107.8 949.57,1107.7 951.3,1107.6 953.04,1107.5 954.78,1107.4 956.52,1107.3 958.26,1107.1 960,1107 961.74,1106.9 963.48,1106.8 965.22,1106.7 966.96,1106.5 968.7,1106.4 970.43,1106.3 972.17,1106.2 973.91,1106 975.65,1105.9 977.39,1105.7 979.13,1105.6 980.87,1105.4 982.61,1105.3 984.35,1105.1 986.09,1104.9 987.83,1104.7 989.57,1104.5 991.3,1104.3 993.04,1104.1 994.78,1103.9 996.52,1103.7 998.26,1103.4 1000,1103.1 1001.74,1102.8 1003.48,1102.5 1005.22,1102.2 1006.96,1101.9 1008.7,1101.5 1010.43,1101.1 1012.17,1100.7 1013.91,1100.3 1015.65,1099.8 1017.39,1099.3 1019.13,1098.8 1020.87,1098.3 1022.61,1097.7 1024.35,1097.1 1026.09,1096.4 1027.83,1095.7 1029.57,1095 1031.3,1094.2 1033.04,1093.4 1034.78,1092.5 1036.52,1091.6 1038.26,1090.6 1040,1089.5 1041.74,1088.4 1043.48,1087.3 1045.22,1086.1 1046.96,1084.8 1048.7,1083.4 1050.43,1082 1052.17,1080.5 1053.91,1078.9 1055.65,1077.3 1057.39,1075.5 1059.13,1073.7 1060.87,1071.8 1062.61,1069.8 1064.35,1067.7 1066.09,1065.5 1067.83,1063.2 1069.57,1060.8 1071.3,1058.3 1073.04,1055.7 1074.78,1052.9 1076.52,1050.1 1078.26,1047.2 1080,1044.1 1081.74,1040.9 1083.48,1037.7 1085.22,1034.3 1086.96,1030.8 1088.7,1027.1 1090.43,1023.4 1092.17,1019.5 1093.91,1015.6 1095.65,1011.5 1097.39,1007.4 1099.13,1003.1 1100.87,998.8 1102.61,994.3 1104.35,989.8 1106.09,985.3 1107.83,980.7 1109.57,976 1111.3,971.4 1113.04,966.7 1114.78,962.1 1116.52,957.5 1118.26,952.9 1120,948.4 1121.74,944.1 1123.48,939.8 1125.22,935.8 1126.96,931.9 1128.7,928.2 1130.43,924.9 1132.17,921.7 1133.91,919 1135.65,916.5 1137.39,914.4 1139.13,912.7 1140.87,911.4 1142.61,910.6 1144.35,910.2 1146.09,910.2 1147.83,910.7 1149.57,911.6 1151.3,913 1153.04,914.9 1154.78,917.1 1156.52,919.8 1158.26,922.9 1160,926.3 1161.74,930 1163.48,934 1165.22,938.3 1166.96,942.9 1168.7,947.6 1170.43,952.6 1172.17,957.6 1173.91,962.8 1175.65,968.1 1177.39,973.5 1179.13,978.8 1180.87,984.2 1182.61,989.6 1184.35,995 1186.09,1000.4 1187.83,1005.7 1189.57,1010.9 1191.3,1016.1 1193.04,1021.1 1194.78,1026.1 1196.52,1031 1198.26,1035.8 1200,1040.4 1201.74,1045 1203.48,1049.4 1205.22,1053.7 1206.96,1057.9 1208.7,1062 1210.43,1065.9 1212.17,1069.7 1213.91,1073.4 1215.65,1077 1217.39,1080.5 1219.13,1083.8 1220.87,1087.1 1222.61,1090.2 1224.35,1093.2 1226.09,1096.1 1227.83,1098.9 1229.57,1101.5 1231.3,1104.1 1233.04,1106.6 1234.78,1109 1236.52,1111.3 1238.26,1113.5 1240,1115.6 1241.74,1117.6 1243.48,1119.6 1245.22,1121.4 1246.96,1123.2 1248.7,1125 1250.43,1126.6 1252.17,1128.2 1253.91,1129.7 1255.65,1131.2 1257.39,1132.6 1259.13,1133.9 1260.87,1135.2 1262.61,1136.4 1264.35,1137.6 1266.09,1138.7 1267.83,1139.8 1269.57,1140.9 1271.3,1141.9 1273.04,1142.8 1274.78,1143.8 1276.52,1144.7 1278.26,1145.5 1280,1146.3 1281.74,1147.1 1283.48,1147.9 1285.22,1148.6 1286.96,1149.3 1288.7,1150 1290.43,1150.7 1292.17,1151.3 1293.91,1151.9 1295.65,1152.5 1297.39,1153.1 1299.13,1153.6 1300.87,1154.2 1302.61,1154.7 1304.35,1155.2 1306.09,1155.6 1307.83,1156.1 1309.57,1156.6 1311.3,1157 1313.04,1157.4 1314.78,1157.8 1316.52,1158.2 1318.26,1158.6 1320,1159 1321.74,1159.4 1323.48,1159.7 1325.22,1160 1326.96,1160.4 1328.7,1160.7 1330.43,1161" fill="none" stroke="#9900ff" stroke-width="5.05" stroke-linejoin="round" stroke-linecap="round" transform="scale(1.15 1)"/>
<polyline points="801.74,1099.4 803.48,1099.1 805.22,1098.8 806.96,1098.6 808.7,1098.3 810.43,1098 812.17,1097.7 813.91,1097.5 815.65,1097.2 817.39,1096.9 819.13,1096.6 820.87,1096.3 822.61,1095.9 824.35,1095.6 826.09,1095.3 827.83,1095 829.57,1094.6 831.3,1094.3 833.04,1093.9 834.78,1093.6 836.52,1093.2 838.26,1092.8 840,1092.4 841.74,1092 843.48,1091.6 845.22,1091.2 846.96,1090.8 848.7,1090.4 850.43,1089.9 852.17,1089.5 853.91,1089 855.65,1088.5 857.39,1088 859.13,1087.5 860.87,1087 862.61,1086.4 864.35,1085.9 866.09,1085.3 867.83,1084.7 869.57,1084 871.3,1083.4 873.04,1082.7 874.78,1082 876.52,1081.2 878.26,1080.4 880,1079.6 881.74,1078.8 883.48,1077.9 885.22,1076.9 886.96,1076 888.7,1074.9 890.43,1073.8 892.17,1072.7 893.91,1071.5 895.65,1070.2 897.39,1068.8 899.13,1067.4 900.87,1065.9 902.61,1064.3 904.35,1062.6 906.09,1060.9 907.83,1059 909.57,1057 911.3,1054.9 913.04,1052.7 914.78,1050.4 916.52,1048 918.26,1045.4 920,1042.7 921.74,1039.9 923.48,1037 925.22,1033.9 926.96,1030.7 928.7,1027.3 930.43,1023.8 932.17,1020.1 933.91,1016.3 935.65,1012.4 937.39,1008.3 939.13,1004.1 940.87,999.8 942.61,995.3 944.35,990.7 946.09,986 947.83,981.2 949.57,976.2 951.3,971.2 953.04,966.1 954.78,960.9 956.52,955.7 958.26,950.3 960,945 961.74,939.6 963.48,934.2 965.22,928.7 966.96,923.3 968.7,917.9 970.43,912.5 972.17,907.1 973.91,901.8 975.65,896.5 977.39,891.3 979.13,886.2 980.87,881.2 982.61,876.2 984.35,871.3 986.09,866.6 987.83,861.9 989.57,857.4 991.3,853 993.04,848.7 994.78,844.5 996.52,840.5 998.26,836.6 1000,832.8 1001.74,829.1 1003.48,825.6 1005.22,822.2 1006.96,818.9 1008.7,815.7 1010.43,812.7 1012.17,809.7 1013.91,806.8 1015.65,804 1017.39,801.3 1019.13,798.7 1020.87,796.2 1022.61,793.8 1024.35,791.4 1026.09,789.2 1027.83,787 1029.57,784.9 1031.3,782.9 1033.04,781 1034.78,779.3 1036.52,777.6 1038.26,776 1040,774.6 1041.74,773.3 1043.48,772.2 1045.22,771.2 1046.96,770.3 1048.7,769.7 1050.43,769.1 1052.17,768.8 1053.91,768.6 1055.65,768.6 1057.39,768.7 1059.13,769 1060.87,769.5 1062.61,770.1 1064.35,770.9 1066.09,771.8 1067.83,772.8 1069.57,773.9 1071.3,775.1 1073.04,776.3 1074.78,777.6 1076.52,779 1078.26,780.3 1080,781.6 1081.74,783 1083.48,784.2 1085.22,785.4 1086.96,786.6 1088.7,787.6 1090.43,788.6 1092.17,789.4 1093.91,790.1 1095.65,790.7 1097.39,791.1 1099.13,791.4 1100.87,791.5 1102.61,791.5 1104.35,791.3 1106.09,791 1107.83,790.6 1109.57,790 1111.3,789.3 1113.04,788.4 1114.78,787.5 1116.52,786.5 1118.26,785.4 1120,784.2 1121.74,783.1 1123.48,781.9 1125.22,780.8 1126.96,779.8 1128.7,778.8 1130.43,777.9 1132.17,777.2 1133.91,776.7 1135.65,776.4 1137.39,776.2 1139.13,776.4 1140.87,776.8 1142.61,777.5 1144.35,778.5 1146.09,779.8 1147.83,781.5 1149.57,783.4 1151.3,785.7 1153.04,788.3 1154.78,791.2 1156.52,794.4 1158.26,797.9 1160,801.6 1161.74,805.6 1163.48,809.8 1165.22,814.1 1166.96,818.7 1168.7,823.4 1170.43,828.2 1172.17,833.1 1173.91,838.2 1175.65,843.3 1177.39,848.5 1179.13,853.8 1180.87,859.2 1182.61,864.7 1184.35,870.2 1186.09,875.8 1187.83,881.4 1189.57,887.1 1191.3,892.9 1193.04,898.8 1194.78,904.7 1196.52,910.7 1198.26,916.8 1200,923 1201.74,929.2 1203.48,935.5 1205.22,941.8 1206.96,948.1 1208.7,954.5 1210.43,960.8 1212.17,967.1 1213.91,973.3 1215.65,979.4 1217.39,985.5 1219.13,991.4 1220.87,997.3 1222.61,1003 1224.35,1008.6 1226.09,1014 1227.83,1019.3 1229.57,1024.4 1231.3,1029.4 1233.04,1034.3 1234.78,1038.9 1236.52,1043.4 1238.26,1047.8 1240,1052 1241.74,1056 1243.48,1059.9 1245.22,1063.6 1246.96,1067.2 1248.7,1070.7 1250.43,1074 1252.17,1077.2 1253.91,1080.3 1255.65,1083.2 1257.39,1086 1259.13,1088.7 1260.87,1091.3 1262.61,1093.8 1264.35,1096.2 1266.09,1098.5 1267.83,1100.6 1269.57,1102.7 1271.3,1104.8 1273.04,1106.7 1274.78,1108.5 1276.52,1110.3 1278.26,1112 1280,1113.7 1281.74,1115.2 1283.48,1116.8 1285.22,1118.2 1286.96,1119.6 1288.7,1121 1290.43,1122.3 1292.17,1123.5 1293.91,1124.7 1295.65,1125.9 1297.39,1127 1299.13,1128.1 1300.87,1129.1 1302.61,1130.1 1304.35,1131.1 1306.09,1132 1307.83,1132.9 1309.57,1133.8 1311.3,1134.6 1313.04,1135.5 1314.78,1136.3 1316.52,1137 1318.26,1137.8 1320,1138.5 1321.74,1139.2 1323.48,1139.9 1325.22,1140.6 1326.96,1141.2 1328.7,1141.9 1330.43,1142.5" fill="none" stroke="#4da6ff" stroke-width="5.05" stroke-linejoin="round" stroke-linecap="round" transform="scale(1.15 1)"/>
<rect x="765" y="664.6" width="693.39" height="542.9" fill="none" stroke="#000" stroke-width="2.25" transform="scale(1.12 1)"/>
<path d="M921.8 1207.5v-11.4M1051.2 1207.5v-11.4M1180.6 1207.5v-11.4M1310 1207.5v-11.4M1439.4 1207.5v-11.4M1568.8 1207.5v-11.4" stroke="#000" stroke-width="2.2" fill="none"/>
<path d="M986.5 1207.5v-6.2M1115.9 1207.5v-6.2M1245.3 1207.5v-6.2M1374.7 1207.5v-6.2M1504.1 1207.5v-6.2" stroke="#000" stroke-width="2.2" fill="none"/>
<text x="921.8" y="1246.6" font-size="35.7" font-weight="bold" text-anchor="middle">536</text>
<text x="1051.2" y="1246.6" font-size="35.7" font-weight="bold" text-anchor="middle">534</text>
<text x="1180.6" y="1246.6" font-size="35.7" font-weight="bold" text-anchor="middle">532</text>
<text x="1310" y="1246.6" font-size="35.7" font-weight="bold" text-anchor="middle">530</text>
<text x="1439.4" y="1246.6" font-size="35.7" font-weight="bold" text-anchor="middle">528</text>
<text x="1568.8" y="1246.6" font-size="35.7" font-weight="bold" text-anchor="middle">526</text>
<text x="1245.1" y="1301" font-size="37.3" font-weight="bold" text-anchor="middle">Binding Energy (eV)</text>
<text x="872" y="714.3" font-size="44" font-weight="bold" text-anchor="start">(d)</text>
</g>
</svg></body></html>
